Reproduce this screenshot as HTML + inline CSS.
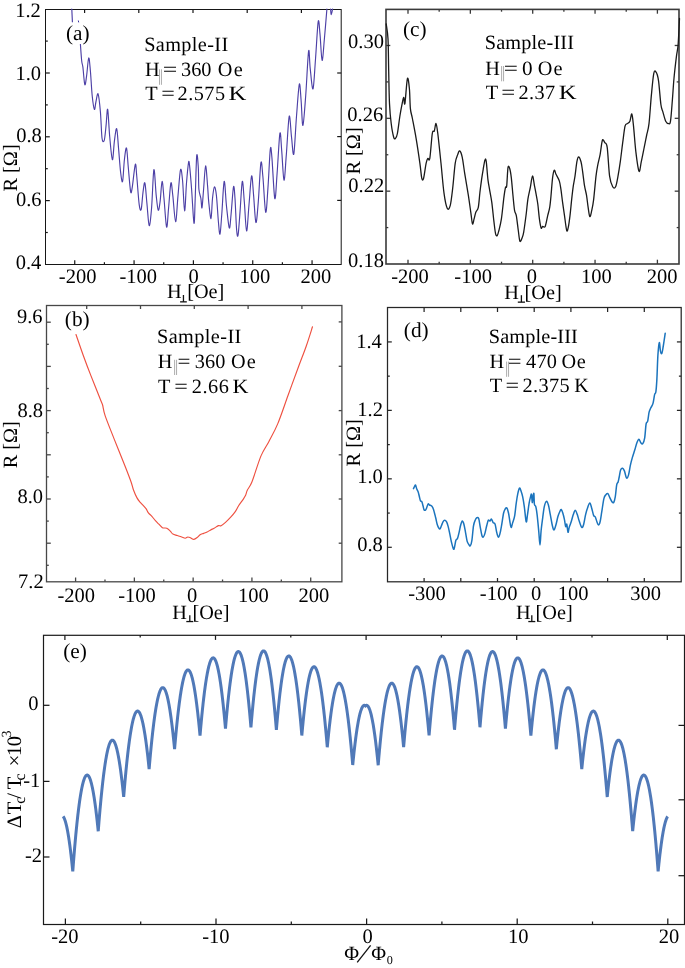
<!DOCTYPE html>
<html><head><meta charset="utf-8"><style>
html,body{margin:0;padding:0;background:#fff;}
svg{display:block;}
text{font-family:"Liberation Serif", serif; text-rendering:geometricPrecision;}
</style></head><body>
<svg width="685" height="968" viewBox="0 0 685 968">
<rect width="685" height="968" fill="#fff"/>
<line x1="74.74" y1="264.50" x2="74.74" y2="260.20" stroke="#161616" stroke-width="1.2"/>
<line x1="104.41" y1="264.50" x2="104.41" y2="262.20" stroke="#161616" stroke-width="1.2"/>
<line x1="134.07" y1="264.50" x2="134.07" y2="260.20" stroke="#161616" stroke-width="1.2"/>
<line x1="163.74" y1="264.50" x2="163.74" y2="262.20" stroke="#161616" stroke-width="1.2"/>
<line x1="193.40" y1="264.50" x2="193.40" y2="260.20" stroke="#161616" stroke-width="1.2"/>
<line x1="223.06" y1="264.50" x2="223.06" y2="262.20" stroke="#161616" stroke-width="1.2"/>
<line x1="252.73" y1="264.50" x2="252.73" y2="260.20" stroke="#161616" stroke-width="1.2"/>
<line x1="282.39" y1="264.50" x2="282.39" y2="262.20" stroke="#161616" stroke-width="1.2"/>
<line x1="312.06" y1="264.50" x2="312.06" y2="260.20" stroke="#161616" stroke-width="1.2"/>
<line x1="84.60" y1="9.50" x2="84.60" y2="13.00" stroke="#161616" stroke-width="1.2"/>
<line x1="138.80" y1="9.50" x2="138.80" y2="13.00" stroke="#161616" stroke-width="1.2"/>
<line x1="193.00" y1="9.50" x2="193.00" y2="13.00" stroke="#161616" stroke-width="1.2"/>
<line x1="247.20" y1="9.50" x2="247.20" y2="13.00" stroke="#161616" stroke-width="1.2"/>
<line x1="301.40" y1="9.50" x2="301.40" y2="13.00" stroke="#161616" stroke-width="1.2"/>
<line x1="45.50" y1="232.50" x2="47.80" y2="232.50" stroke="#161616" stroke-width="1.2"/>
<line x1="45.50" y1="200.60" x2="49.80" y2="200.60" stroke="#161616" stroke-width="1.2"/>
<line x1="45.50" y1="168.70" x2="47.80" y2="168.70" stroke="#161616" stroke-width="1.2"/>
<line x1="45.50" y1="136.80" x2="49.80" y2="136.80" stroke="#161616" stroke-width="1.2"/>
<line x1="45.50" y1="104.90" x2="47.80" y2="104.90" stroke="#161616" stroke-width="1.2"/>
<line x1="45.50" y1="73.00" x2="49.80" y2="73.00" stroke="#161616" stroke-width="1.2"/>
<line x1="45.50" y1="41.10" x2="47.80" y2="41.10" stroke="#161616" stroke-width="1.2"/>
<line x1="341.20" y1="73.00" x2="337.20" y2="73.00" stroke="#161616" stroke-width="1.2"/>
<line x1="341.20" y1="136.60" x2="337.20" y2="136.60" stroke="#161616" stroke-width="1.2"/>
<line x1="341.20" y1="200.40" x2="337.20" y2="200.40" stroke="#161616" stroke-width="1.2"/>
<rect x="45.5" y="9.5" width="295.70" height="255.00" fill="none" stroke="#161616" stroke-width="1.0"/>
<line x1="408.00" y1="264.00" x2="408.00" y2="259.70" stroke="#3a3a3a" stroke-width="1.3"/>
<line x1="439.18" y1="264.00" x2="439.18" y2="261.70" stroke="#3a3a3a" stroke-width="1.3"/>
<line x1="470.35" y1="264.00" x2="470.35" y2="259.70" stroke="#3a3a3a" stroke-width="1.3"/>
<line x1="501.53" y1="264.00" x2="501.53" y2="261.70" stroke="#3a3a3a" stroke-width="1.3"/>
<line x1="532.70" y1="264.00" x2="532.70" y2="259.70" stroke="#3a3a3a" stroke-width="1.3"/>
<line x1="563.88" y1="264.00" x2="563.88" y2="261.70" stroke="#3a3a3a" stroke-width="1.3"/>
<line x1="595.05" y1="264.00" x2="595.05" y2="259.70" stroke="#3a3a3a" stroke-width="1.3"/>
<line x1="626.23" y1="264.00" x2="626.23" y2="261.70" stroke="#3a3a3a" stroke-width="1.3"/>
<line x1="657.40" y1="264.00" x2="657.40" y2="259.70" stroke="#3a3a3a" stroke-width="1.3"/>
<line x1="408.00" y1="9.40" x2="408.00" y2="13.70" stroke="#3a3a3a" stroke-width="1.3"/>
<line x1="439.18" y1="9.40" x2="439.18" y2="11.70" stroke="#3a3a3a" stroke-width="1.3"/>
<line x1="470.35" y1="9.40" x2="470.35" y2="13.70" stroke="#3a3a3a" stroke-width="1.3"/>
<line x1="501.53" y1="9.40" x2="501.53" y2="11.70" stroke="#3a3a3a" stroke-width="1.3"/>
<line x1="532.70" y1="9.40" x2="532.70" y2="13.70" stroke="#3a3a3a" stroke-width="1.3"/>
<line x1="563.88" y1="9.40" x2="563.88" y2="11.70" stroke="#3a3a3a" stroke-width="1.3"/>
<line x1="595.05" y1="9.40" x2="595.05" y2="13.70" stroke="#3a3a3a" stroke-width="1.3"/>
<line x1="626.23" y1="9.40" x2="626.23" y2="11.70" stroke="#3a3a3a" stroke-width="1.3"/>
<line x1="657.40" y1="9.40" x2="657.40" y2="13.70" stroke="#3a3a3a" stroke-width="1.3"/>
<line x1="386.00" y1="227.58" x2="388.30" y2="227.58" stroke="#3a3a3a" stroke-width="1.3"/>
<line x1="386.00" y1="191.16" x2="390.30" y2="191.16" stroke="#3a3a3a" stroke-width="1.3"/>
<line x1="386.00" y1="154.74" x2="388.30" y2="154.74" stroke="#3a3a3a" stroke-width="1.3"/>
<line x1="386.00" y1="118.32" x2="390.30" y2="118.32" stroke="#3a3a3a" stroke-width="1.3"/>
<line x1="386.00" y1="81.90" x2="388.30" y2="81.90" stroke="#3a3a3a" stroke-width="1.3"/>
<line x1="386.00" y1="45.48" x2="390.30" y2="45.48" stroke="#3a3a3a" stroke-width="1.3"/>
<line x1="679.00" y1="227.58" x2="676.70" y2="227.58" stroke="#3a3a3a" stroke-width="1.3"/>
<line x1="679.00" y1="191.16" x2="674.70" y2="191.16" stroke="#3a3a3a" stroke-width="1.3"/>
<line x1="679.00" y1="154.74" x2="676.70" y2="154.74" stroke="#3a3a3a" stroke-width="1.3"/>
<line x1="679.00" y1="118.32" x2="674.70" y2="118.32" stroke="#3a3a3a" stroke-width="1.3"/>
<line x1="679.00" y1="81.90" x2="676.70" y2="81.90" stroke="#3a3a3a" stroke-width="1.3"/>
<line x1="679.00" y1="45.48" x2="674.70" y2="45.48" stroke="#3a3a3a" stroke-width="1.3"/>
<rect x="386" y="9.4" width="293.00" height="254.60" fill="none" stroke="#3a3a3a" stroke-width="1.6"/>
<line x1="75.59" y1="581.80" x2="75.59" y2="577.50" stroke="#474747" stroke-width="1.3"/>
<line x1="104.98" y1="581.80" x2="104.98" y2="579.50" stroke="#474747" stroke-width="1.3"/>
<line x1="134.37" y1="581.80" x2="134.37" y2="577.50" stroke="#474747" stroke-width="1.3"/>
<line x1="163.76" y1="581.80" x2="163.76" y2="579.50" stroke="#474747" stroke-width="1.3"/>
<line x1="193.15" y1="581.80" x2="193.15" y2="577.50" stroke="#474747" stroke-width="1.3"/>
<line x1="222.54" y1="581.80" x2="222.54" y2="579.50" stroke="#474747" stroke-width="1.3"/>
<line x1="251.93" y1="581.80" x2="251.93" y2="577.50" stroke="#474747" stroke-width="1.3"/>
<line x1="281.32" y1="581.80" x2="281.32" y2="579.50" stroke="#474747" stroke-width="1.3"/>
<line x1="310.71" y1="581.80" x2="310.71" y2="577.50" stroke="#474747" stroke-width="1.3"/>
<line x1="86.70" y1="305.50" x2="86.70" y2="309.00" stroke="#474747" stroke-width="1.3"/>
<line x1="140.50" y1="305.50" x2="140.50" y2="309.00" stroke="#474747" stroke-width="1.3"/>
<line x1="194.30" y1="305.50" x2="194.30" y2="309.00" stroke="#474747" stroke-width="1.3"/>
<line x1="248.10" y1="305.50" x2="248.10" y2="309.00" stroke="#474747" stroke-width="1.3"/>
<line x1="301.90" y1="305.50" x2="301.90" y2="309.00" stroke="#474747" stroke-width="1.3"/>
<line x1="46.50" y1="322.20" x2="50.80" y2="322.20" stroke="#474747" stroke-width="1.3"/>
<line x1="46.50" y1="344.30" x2="48.80" y2="344.30" stroke="#474747" stroke-width="1.3"/>
<line x1="46.50" y1="366.40" x2="50.80" y2="366.40" stroke="#474747" stroke-width="1.3"/>
<line x1="46.50" y1="388.50" x2="48.80" y2="388.50" stroke="#474747" stroke-width="1.3"/>
<line x1="46.50" y1="410.60" x2="50.80" y2="410.60" stroke="#474747" stroke-width="1.3"/>
<line x1="46.50" y1="432.70" x2="48.80" y2="432.70" stroke="#474747" stroke-width="1.3"/>
<line x1="46.50" y1="454.80" x2="50.80" y2="454.80" stroke="#474747" stroke-width="1.3"/>
<line x1="46.50" y1="476.90" x2="48.80" y2="476.90" stroke="#474747" stroke-width="1.3"/>
<line x1="46.50" y1="499.00" x2="50.80" y2="499.00" stroke="#474747" stroke-width="1.3"/>
<line x1="46.50" y1="521.10" x2="48.80" y2="521.10" stroke="#474747" stroke-width="1.3"/>
<line x1="46.50" y1="543.20" x2="50.80" y2="543.20" stroke="#474747" stroke-width="1.3"/>
<line x1="46.50" y1="565.30" x2="48.80" y2="565.30" stroke="#474747" stroke-width="1.3"/>
<line x1="341.90" y1="321.90" x2="338.70" y2="321.90" stroke="#474747" stroke-width="1.3"/>
<line x1="341.90" y1="366.30" x2="338.70" y2="366.30" stroke="#474747" stroke-width="1.3"/>
<line x1="341.90" y1="410.60" x2="338.70" y2="410.60" stroke="#474747" stroke-width="1.3"/>
<line x1="341.90" y1="454.80" x2="338.70" y2="454.80" stroke="#474747" stroke-width="1.3"/>
<line x1="341.90" y1="499.00" x2="338.70" y2="499.00" stroke="#474747" stroke-width="1.3"/>
<line x1="341.90" y1="543.20" x2="338.70" y2="543.20" stroke="#474747" stroke-width="1.3"/>
<rect x="46.5" y="305.5" width="295.40" height="276.30" fill="none" stroke="#474747" stroke-width="1.3"/>
<line x1="424.10" y1="581.80" x2="424.10" y2="578.00" stroke="#262626" stroke-width="1.25"/>
<line x1="460.80" y1="581.80" x2="460.80" y2="578.00" stroke="#262626" stroke-width="1.25"/>
<line x1="497.50" y1="581.80" x2="497.50" y2="578.00" stroke="#262626" stroke-width="1.25"/>
<line x1="534.20" y1="581.80" x2="534.20" y2="578.00" stroke="#262626" stroke-width="1.25"/>
<line x1="570.90" y1="581.80" x2="570.90" y2="578.00" stroke="#262626" stroke-width="1.25"/>
<line x1="607.60" y1="581.80" x2="607.60" y2="578.00" stroke="#262626" stroke-width="1.25"/>
<line x1="644.30" y1="581.80" x2="644.30" y2="578.00" stroke="#262626" stroke-width="1.25"/>
<line x1="424.10" y1="307.50" x2="424.10" y2="312.00" stroke="#262626" stroke-width="1.25"/>
<line x1="460.80" y1="307.50" x2="460.80" y2="312.00" stroke="#262626" stroke-width="1.25"/>
<line x1="497.50" y1="307.50" x2="497.50" y2="312.00" stroke="#262626" stroke-width="1.25"/>
<line x1="534.20" y1="307.50" x2="534.20" y2="312.00" stroke="#262626" stroke-width="1.25"/>
<line x1="570.90" y1="307.50" x2="570.90" y2="312.00" stroke="#262626" stroke-width="1.25"/>
<line x1="607.60" y1="307.50" x2="607.60" y2="312.00" stroke="#262626" stroke-width="1.25"/>
<line x1="644.30" y1="307.50" x2="644.30" y2="312.00" stroke="#262626" stroke-width="1.25"/>
<line x1="387.50" y1="547.30" x2="391.80" y2="547.30" stroke="#262626" stroke-width="1.25"/>
<line x1="387.50" y1="513.07" x2="389.80" y2="513.07" stroke="#262626" stroke-width="1.25"/>
<line x1="387.50" y1="478.84" x2="391.80" y2="478.84" stroke="#262626" stroke-width="1.25"/>
<line x1="387.50" y1="444.61" x2="389.80" y2="444.61" stroke="#262626" stroke-width="1.25"/>
<line x1="387.50" y1="410.38" x2="391.80" y2="410.38" stroke="#262626" stroke-width="1.25"/>
<line x1="387.50" y1="376.15" x2="389.80" y2="376.15" stroke="#262626" stroke-width="1.25"/>
<line x1="387.50" y1="341.92" x2="391.80" y2="341.92" stroke="#262626" stroke-width="1.25"/>
<line x1="681.20" y1="547.30" x2="676.90" y2="547.30" stroke="#262626" stroke-width="1.25"/>
<line x1="681.20" y1="513.07" x2="678.90" y2="513.07" stroke="#262626" stroke-width="1.25"/>
<line x1="681.20" y1="478.84" x2="676.90" y2="478.84" stroke="#262626" stroke-width="1.25"/>
<line x1="681.20" y1="444.61" x2="678.90" y2="444.61" stroke="#262626" stroke-width="1.25"/>
<line x1="681.20" y1="410.38" x2="676.90" y2="410.38" stroke="#262626" stroke-width="1.25"/>
<line x1="681.20" y1="376.15" x2="678.90" y2="376.15" stroke="#262626" stroke-width="1.25"/>
<line x1="681.20" y1="341.92" x2="676.90" y2="341.92" stroke="#262626" stroke-width="1.25"/>
<rect x="387.5" y="307.5" width="293.70" height="274.30" fill="none" stroke="#262626" stroke-width="1.25"/>
<line x1="65.40" y1="924.50" x2="65.40" y2="918.50" stroke="#1a1a1a" stroke-width="1.25"/>
<line x1="140.70" y1="924.50" x2="140.70" y2="921.50" stroke="#1a1a1a" stroke-width="1.25"/>
<line x1="216.00" y1="924.50" x2="216.00" y2="918.50" stroke="#1a1a1a" stroke-width="1.25"/>
<line x1="291.30" y1="924.50" x2="291.30" y2="921.50" stroke="#1a1a1a" stroke-width="1.25"/>
<line x1="366.60" y1="924.50" x2="366.60" y2="918.50" stroke="#1a1a1a" stroke-width="1.25"/>
<line x1="441.90" y1="924.50" x2="441.90" y2="921.50" stroke="#1a1a1a" stroke-width="1.25"/>
<line x1="517.20" y1="924.50" x2="517.20" y2="918.50" stroke="#1a1a1a" stroke-width="1.25"/>
<line x1="592.50" y1="924.50" x2="592.50" y2="921.50" stroke="#1a1a1a" stroke-width="1.25"/>
<line x1="667.80" y1="924.50" x2="667.80" y2="918.50" stroke="#1a1a1a" stroke-width="1.25"/>
<line x1="64.90" y1="635.30" x2="64.90" y2="639.90" stroke="#1a1a1a" stroke-width="1.25"/>
<line x1="140.20" y1="635.30" x2="140.20" y2="637.50" stroke="#1a1a1a" stroke-width="1.25"/>
<line x1="215.50" y1="635.30" x2="215.50" y2="639.90" stroke="#1a1a1a" stroke-width="1.25"/>
<line x1="290.80" y1="635.30" x2="290.80" y2="637.50" stroke="#1a1a1a" stroke-width="1.25"/>
<line x1="366.10" y1="635.30" x2="366.10" y2="639.90" stroke="#1a1a1a" stroke-width="1.25"/>
<line x1="441.40" y1="635.30" x2="441.40" y2="637.50" stroke="#1a1a1a" stroke-width="1.25"/>
<line x1="516.70" y1="635.30" x2="516.70" y2="639.90" stroke="#1a1a1a" stroke-width="1.25"/>
<line x1="592.00" y1="635.30" x2="592.00" y2="637.50" stroke="#1a1a1a" stroke-width="1.25"/>
<line x1="667.30" y1="635.30" x2="667.30" y2="639.90" stroke="#1a1a1a" stroke-width="1.25"/>
<line x1="43.50" y1="705.30" x2="49.50" y2="705.30" stroke="#1a1a1a" stroke-width="1.25"/>
<line x1="43.50" y1="781.40" x2="49.50" y2="781.40" stroke="#1a1a1a" stroke-width="1.25"/>
<line x1="43.50" y1="857.00" x2="49.50" y2="857.00" stroke="#1a1a1a" stroke-width="1.25"/>
<line x1="684.50" y1="725.40" x2="678.50" y2="725.40" stroke="#1a1a1a" stroke-width="1.25"/>
<line x1="684.50" y1="799.80" x2="678.50" y2="799.80" stroke="#1a1a1a" stroke-width="1.25"/>
<line x1="684.50" y1="875.70" x2="678.50" y2="875.70" stroke="#1a1a1a" stroke-width="1.25"/>
<rect x="43.5" y="635.3" width="641.00" height="289.20" fill="none" stroke="#1a1a1a" stroke-width="1.2"/>
<path d="M71.80,9.00 C71.90,11.17 72.30,19.83 72.40,22.00" fill="none" stroke="#4d40a6" stroke-width="1.15" stroke-linejoin="round" stroke-linecap="round" />
<path d="M80.40,44.30 C80.62,47.08 81.28,57.18 81.70,61.00 C82.12,64.82 82.38,63.27 82.90,67.20 C83.42,71.13 84.18,83.15 84.80,84.60 C85.42,86.05 85.95,80.33 86.60,75.90 C87.25,71.47 88.07,58.82 88.70,58.00 C89.33,57.18 89.82,64.72 90.40,71.00 C90.98,77.28 91.53,89.30 92.20,95.70 C92.87,102.10 93.78,108.35 94.40,109.40 C95.02,110.45 95.28,104.58 95.90,102.00 C96.52,99.42 97.35,92.28 98.10,93.90 C98.85,95.52 99.75,104.35 100.40,111.70 C101.05,119.05 101.40,133.10 102.00,138.00 C102.60,142.90 103.48,141.62 104.00,141.10 C104.52,140.58 104.73,137.73 105.10,134.90 C105.47,132.07 105.77,128.35 106.20,124.10 C106.63,119.85 107.12,107.33 107.70,109.40 C108.28,111.47 108.92,128.12 109.70,136.50 C110.48,144.88 111.62,158.93 112.40,159.70 C113.18,160.47 113.68,146.27 114.40,141.10 C115.12,135.93 116.00,127.40 116.70,128.70 C117.40,130.00 117.95,141.67 118.60,148.90 C119.25,156.13 119.93,166.68 120.60,172.10 C121.27,177.52 121.97,183.47 122.60,181.40 C123.23,179.33 123.75,165.25 124.40,159.70 C125.05,154.15 125.85,146.80 126.50,148.10 C127.15,149.40 127.62,160.27 128.30,167.50 C128.98,174.73 129.95,188.15 130.60,191.50 C131.25,194.85 131.42,192.12 132.20,187.60 C132.98,183.08 134.53,166.20 135.30,164.40 C136.07,162.60 136.15,170.08 136.80,176.80 C137.45,183.52 138.47,199.28 139.20,204.70 C139.93,210.12 140.57,211.37 141.20,209.30 C141.83,207.23 142.38,196.68 143.00,192.30 C143.62,187.92 144.25,181.20 144.90,183.00 C145.55,184.80 146.18,196.00 146.90,203.10 C147.62,210.20 148.42,224.82 149.20,225.60 C149.98,226.38 150.82,217.10 151.60,207.80 C152.38,198.50 153.13,171.87 153.90,169.80 C154.67,167.73 155.48,188.68 156.20,195.40 C156.92,202.12 157.55,209.07 158.20,210.10 C158.85,211.13 159.45,206.38 160.10,201.60 C160.75,196.82 161.45,181.92 162.10,181.40 C162.75,180.88 163.25,190.88 164.00,198.50 C164.75,206.12 165.83,225.55 166.60,227.10 C167.37,228.65 167.88,215.15 168.60,207.80 C169.32,200.45 170.20,185.07 170.90,183.00 C171.60,180.93 172.02,188.95 172.80,195.40 C173.58,201.85 174.75,221.45 175.60,221.70 C176.45,221.95 177.08,205.55 177.90,196.90 C178.72,188.25 179.72,172.45 180.50,169.80 C181.28,167.15 181.92,174.15 182.60,181.00 C183.28,187.85 183.95,210.57 184.60,210.90 C185.25,211.23 185.85,191.02 186.50,183.00 C187.15,174.98 187.98,165.65 188.50,162.80 C189.02,159.95 189.08,161.50 189.60,165.90 C190.12,170.30 190.87,179.63 191.60,189.20 C192.33,198.77 193.40,221.75 194.00,223.30 C194.60,224.85 194.75,209.73 195.20,198.50 C195.65,187.27 196.18,161.07 196.70,155.90 C197.22,150.73 197.93,161.95 198.30,167.50 C198.67,173.05 198.47,184.03 198.90,189.20 C199.33,194.37 200.38,195.40 200.90,198.50 C201.42,201.60 201.55,209.35 202.00,207.80 C202.45,206.25 203.00,196.18 203.60,189.20 C204.20,182.22 204.93,166.42 205.60,165.90 C206.27,165.38 207.08,180.15 207.60,186.10 C208.12,192.05 208.13,196.18 208.70,201.60 C209.27,207.02 210.37,219.12 211.00,218.60 C211.63,218.08 211.93,203.78 212.50,198.50 C213.07,193.22 213.75,187.42 214.40,186.90 C215.05,186.38 215.73,189.60 216.40,195.40 C217.07,201.20 217.80,215.25 218.40,221.70 C219.00,228.15 219.43,235.38 220.00,234.10 C220.57,232.82 221.10,222.78 221.80,214.00 C222.50,205.22 223.42,182.70 224.20,181.40 C224.98,180.10 225.65,198.45 226.50,206.20 C227.35,213.95 228.53,226.60 229.30,227.90 C230.07,229.20 230.40,220.83 231.10,214.00 C231.80,207.17 232.85,189.48 233.50,186.90 C234.15,184.32 234.48,191.40 235.00,198.50 C235.52,205.60 236.08,223.43 236.60,229.50 C237.12,235.57 237.52,238.00 238.10,234.90 C238.68,231.80 239.40,219.82 240.10,210.90 C240.80,201.98 241.60,182.95 242.30,181.40 C243.00,179.85 243.58,193.33 244.30,201.60 C245.02,209.87 245.82,230.48 246.60,231.00 C247.38,231.52 248.17,213.87 249.00,204.70 C249.83,195.53 250.83,177.55 251.60,176.00 C252.37,174.45 252.88,187.65 253.60,195.40 C254.32,203.15 255.12,221.47 255.90,222.50 C256.68,223.53 257.47,211.55 258.30,201.60 C259.13,191.65 260.13,166.93 260.90,162.80 C261.67,158.67 262.10,168.57 262.90,176.80 C263.70,185.03 264.85,210.48 265.70,212.20 C266.55,213.92 267.23,197.57 268.00,187.10 C268.77,176.63 269.65,154.35 270.30,149.40 C270.95,144.45 271.15,149.22 271.90,157.40 C272.65,165.58 273.93,195.83 274.80,198.50 C275.67,201.17 276.25,184.25 277.10,173.40 C277.95,162.55 279.13,137.20 279.90,133.40 C280.67,129.60 281.02,142.80 281.70,150.60 C282.38,158.40 283.23,179.45 284.00,180.20 C284.77,180.95 285.43,165.75 286.30,155.10 C287.17,144.45 288.33,119.33 289.20,116.30 C290.07,113.27 290.73,130.62 291.50,136.90 C292.27,143.18 292.97,157.43 293.80,154.00 C294.63,150.57 295.58,127.92 296.50,116.30 C297.42,104.68 298.53,86.97 299.30,84.30 C300.07,81.63 300.50,93.45 301.10,100.30 C301.70,107.15 302.13,126.15 302.90,125.40 C303.67,124.65 304.75,108.17 305.70,95.80 C306.65,83.43 307.85,55.77 308.60,51.20 C309.35,46.63 309.47,62.12 310.20,68.40 C310.93,74.68 312.12,90.43 313.00,88.90 C313.88,87.37 314.63,70.42 315.50,59.20 C316.37,47.98 317.45,25.78 318.20,21.60 C318.95,17.42 319.35,27.63 320.00,34.10 C320.65,40.57 321.37,59.63 322.10,60.40 C322.83,61.17 323.60,47.27 324.40,38.70 C325.20,30.13 326.48,13.95 326.90,9.00" fill="none" stroke="#4d40a6" stroke-width="1.15" stroke-linejoin="round" stroke-linecap="round" />
<path d="M330.60,9.00 C330.70,9.95 330.87,14.70 331.20,14.70 C331.53,14.70 332.37,9.95 332.60,9.00" fill="none" stroke="#4d40a6" stroke-width="1.15" stroke-linejoin="round" stroke-linecap="round" />
<path d="M386.20,23.90 C386.50,26.40 387.58,31.02 388.00,38.90 C388.42,46.78 388.45,60.42 388.70,71.20 C388.95,81.98 389.08,94.88 389.50,103.60 C389.92,112.32 390.50,117.90 391.20,123.50 C391.90,129.10 392.98,134.72 393.70,137.20 C394.42,139.68 394.88,139.02 395.50,138.40 C396.12,137.78 396.67,137.23 397.40,133.50 C398.13,129.77 399.15,120.78 399.90,116.00 C400.65,111.22 401.27,107.90 401.90,104.80 C402.53,101.70 403.20,97.60 403.70,97.40 C404.20,97.20 404.28,106.72 404.90,103.60 C405.52,100.48 406.65,81.18 407.40,78.70 C408.15,76.22 408.90,83.72 409.40,88.70 C409.90,93.68 409.90,103.63 410.40,108.60 C410.90,113.57 411.45,113.53 412.40,118.50 C413.35,123.47 414.85,130.93 416.10,138.40 C417.35,145.87 418.95,156.65 419.90,163.30 C420.85,169.95 421.18,175.80 421.80,178.30 C422.42,180.80 422.88,180.80 423.60,178.30 C424.32,175.80 425.40,166.62 426.10,163.30 C426.80,159.98 427.18,159.22 427.80,158.40 C428.42,157.58 429.05,162.55 429.80,158.40 C430.55,154.25 431.55,138.07 432.30,133.50 C433.05,128.93 433.68,132.67 434.30,131.00 C434.92,129.33 435.42,123.08 436.00,123.50 C436.58,123.92 436.97,126.87 437.80,133.50 C438.63,140.13 439.97,153.35 441.00,163.30 C442.03,173.25 442.97,185.72 444.00,193.20 C445.03,200.68 446.17,206.12 447.20,208.20 C448.23,210.28 449.28,209.03 450.20,205.70 C451.12,202.37 451.87,195.27 452.70,188.20 C453.53,181.13 454.37,168.90 455.20,163.30 C456.03,157.70 456.95,156.67 457.70,154.60 C458.45,152.53 458.95,150.48 459.70,150.90 C460.45,151.32 461.37,153.37 462.20,157.10 C463.03,160.83 463.67,166.87 464.70,173.30 C465.73,179.73 467.37,189.07 468.40,195.70 C469.43,202.33 470.22,208.40 470.90,213.10 C471.58,217.80 471.97,222.93 472.50,223.90 C473.03,224.87 473.55,220.83 474.10,218.90 C474.65,216.97 475.10,214.22 475.80,212.30 C476.50,210.38 477.62,210.70 478.30,207.40 C478.98,204.10 479.35,197.18 479.90,192.50 C480.45,187.82 481.05,183.17 481.60,179.30 C482.15,175.43 482.65,172.48 483.20,169.30 C483.75,166.12 484.40,161.57 484.90,160.20 C485.40,158.83 485.70,157.92 486.20,161.10 C486.70,164.28 487.30,174.35 487.90,179.30 C488.50,184.25 489.15,186.95 489.80,190.80 C490.45,194.65 491.10,197.17 491.80,202.40 C492.50,207.63 493.37,216.97 494.00,222.20 C494.63,227.43 495.05,231.58 495.60,233.80 C496.15,236.02 496.75,236.05 497.30,235.50 C497.85,234.95 498.22,233.27 498.90,230.50 C499.58,227.73 500.57,224.42 501.40,218.90 C502.23,213.38 503.22,202.63 503.90,197.40 C504.58,192.17 505.03,189.42 505.50,187.50 C505.97,185.58 506.28,189.20 506.70,185.90 C507.12,182.60 507.50,170.60 508.00,167.70 C508.50,164.80 509.15,166.85 509.70,168.50 C510.25,170.15 510.75,173.05 511.30,177.60 C511.85,182.15 512.45,190.28 513.00,195.80 C513.55,201.32 514.05,207.40 514.60,210.70 C515.15,214.00 515.68,212.30 516.30,215.60 C516.92,218.90 517.70,226.23 518.30,230.50 C518.90,234.77 519.27,239.97 519.90,241.20 C520.53,242.43 521.47,239.42 522.10,237.90 C522.73,236.38 523.02,236.08 523.70,232.10 C524.38,228.12 525.50,219.50 526.20,214.00 C526.90,208.50 527.22,203.52 527.90,199.10 C528.58,194.68 529.53,191.35 530.30,187.50 C531.07,183.65 531.80,176.27 532.50,176.00 C533.20,175.73 533.90,182.88 534.50,185.90 C535.10,188.92 535.55,191.08 536.10,194.10 C536.65,197.12 537.25,199.87 537.80,204.00 C538.35,208.13 538.85,214.90 539.40,218.90 C539.95,222.90 540.55,226.75 541.10,228.00 C541.65,229.25 542.02,226.67 542.70,226.40 C543.38,226.13 544.37,228.20 545.20,226.40 C546.03,224.60 546.95,218.77 547.70,215.60 C548.45,212.43 549.15,210.70 549.70,207.40 C550.25,204.10 550.52,200.77 551.00,195.80 C551.48,190.83 552.05,181.87 552.60,177.60 C553.15,173.33 553.73,170.75 554.30,170.20 C554.87,169.65 555.17,172.52 556.00,174.30 C556.83,176.08 558.48,178.42 559.30,180.90 C560.12,183.38 560.35,185.62 560.90,189.20 C561.45,192.78 562.00,198.00 562.60,202.40 C563.20,206.80 563.82,210.92 564.50,215.60 C565.18,220.28 566.07,228.57 566.70,230.50 C567.33,232.43 567.75,229.68 568.30,227.20 C568.85,224.72 569.43,220.28 570.00,215.60 C570.57,210.92 571.15,204.05 571.70,199.10 C572.25,194.15 572.75,189.73 573.30,185.90 C573.85,182.07 574.40,180.13 575.00,176.10 C575.60,172.07 576.30,164.88 576.90,161.70 C577.50,158.52 577.92,157.00 578.60,157.00 C579.28,157.00 580.33,159.32 581.00,161.70 C581.67,164.08 582.02,167.32 582.60,171.30 C583.18,175.28 583.85,181.62 584.50,185.60 C585.15,189.58 585.90,191.62 586.50,195.20 C587.10,198.78 587.55,203.53 588.10,207.10 C588.65,210.67 589.20,216.00 589.80,216.60 C590.40,217.20 591.07,213.48 591.70,210.70 C592.33,207.92 592.88,205.67 593.60,199.90 C594.32,194.13 595.32,181.87 596.00,176.10 C596.68,170.33 597.02,168.88 597.70,165.30 C598.38,161.72 599.32,158.77 600.10,154.60 C600.88,150.43 601.62,142.28 602.40,140.30 C603.18,138.32 604.00,141.52 604.80,142.70 C605.60,143.88 606.40,141.83 607.20,147.40 C608.00,152.97 608.68,169.53 609.60,176.10 C610.52,182.67 611.70,185.02 612.70,186.80 C613.70,188.58 614.72,188.58 615.60,186.80 C616.48,185.02 617.22,180.28 618.00,176.10 C618.78,171.92 619.52,167.27 620.30,161.70 C621.08,156.13 621.90,148.67 622.70,142.70 C623.50,136.73 624.30,129.08 625.10,125.90 C625.90,122.72 626.70,124.38 627.50,123.60 C628.30,122.82 629.18,122.80 629.90,121.20 C630.62,119.60 631.20,113.22 631.80,114.00 C632.40,114.78 632.82,119.53 633.50,125.90 C634.18,132.27 634.98,144.63 635.90,152.20 C636.82,159.77 638.10,169.72 639.00,171.30 C639.90,172.88 640.43,165.68 641.30,161.70 C642.17,157.72 643.32,151.77 644.20,147.40 C645.08,143.03 645.80,139.47 646.60,135.50 C647.40,131.53 648.20,130.37 649.00,123.60 C649.80,116.83 650.60,103.27 651.40,94.90 C652.20,86.53 653.02,77.18 653.80,73.40 C654.58,69.62 655.32,71.00 656.10,72.20 C656.88,73.40 657.70,75.22 658.50,80.60 C659.30,85.98 660.18,99.33 660.90,104.50 C661.62,109.67 662.00,108.82 662.80,111.60 C663.60,114.38 664.73,119.20 665.70,121.20 C666.67,123.20 667.80,123.60 668.60,123.60 C669.40,123.60 669.87,125.18 670.50,121.20 C671.13,117.22 671.82,106.87 672.40,99.70 C672.98,92.53 673.33,85.37 674.00,78.20 C674.67,71.03 675.72,62.27 676.40,56.70 C677.08,51.13 677.58,51.17 678.10,44.80 C678.62,38.43 679.27,22.88 679.50,18.50" fill="none" stroke="#1a1a1a" stroke-width="1.3" stroke-linejoin="round" stroke-linecap="round" />
<path d="M76.00,334.50 C77.20,337.95 80.70,348.30 83.20,355.20 C85.70,362.10 87.98,368.15 91.00,375.90 C94.02,383.65 99.37,396.85 101.30,401.70 C103.23,406.55 101.95,402.63 102.60,405.00 C103.25,407.37 103.27,410.22 105.20,415.90 C107.13,421.58 110.97,430.92 114.20,439.10 C117.43,447.28 121.80,457.90 124.60,465.00 C127.40,472.10 129.52,477.53 131.00,481.70 C132.48,485.87 132.50,487.30 133.50,490.00 C134.50,492.70 135.83,495.80 137.00,497.90 C138.17,500.00 139.03,500.85 140.50,502.60 C141.97,504.35 144.48,506.70 145.80,508.40 C147.12,510.10 147.38,511.48 148.40,512.80 C149.42,514.12 150.73,514.98 151.90,516.30 C153.07,517.62 154.23,519.38 155.40,520.70 C156.57,522.02 157.73,523.03 158.90,524.20 C160.07,525.37 161.08,527.03 162.40,527.70 C163.72,528.37 165.48,527.62 166.80,528.20 C168.12,528.78 169.28,530.22 170.30,531.20 C171.32,532.18 171.73,533.38 172.90,534.10 C174.07,534.82 175.83,535.02 177.30,535.50 C178.77,535.98 180.38,536.55 181.70,537.00 C183.02,537.45 184.18,538.20 185.20,538.20 C186.22,538.20 186.93,537.08 187.80,537.00 C188.67,536.92 189.38,537.30 190.40,537.70 C191.42,538.10 192.73,539.47 193.90,539.40 C195.07,539.33 196.37,538.08 197.40,537.30 C198.43,536.52 199.07,535.35 200.10,534.70 C201.13,534.05 202.43,533.85 203.60,533.40 C204.77,532.95 205.93,532.58 207.10,532.00 C208.27,531.42 209.43,530.53 210.60,529.90 C211.77,529.27 212.78,528.92 214.10,528.20 C215.42,527.48 217.33,526.02 218.50,525.60 C219.67,525.18 219.93,526.23 221.10,525.70 C222.27,525.17 223.90,523.82 225.50,522.40 C227.10,520.98 229.10,518.95 230.70,517.20 C232.30,515.45 233.78,513.80 235.10,511.90 C236.42,510.00 237.28,507.85 238.60,505.80 C239.92,503.75 241.83,501.35 243.00,499.60 C244.17,497.85 244.87,496.90 245.60,495.30 C246.33,493.70 246.33,492.27 247.40,490.00 C248.47,487.73 249.73,487.38 252.00,481.70 C254.27,476.02 258.20,462.57 261.00,455.90 C263.80,449.23 266.00,447.08 268.80,441.70 C271.60,436.32 274.58,431.35 277.80,423.60 C281.02,415.85 284.65,404.67 288.10,395.20 C291.55,385.73 295.48,374.97 298.50,366.80 C301.52,358.63 303.87,352.87 306.20,346.20 C308.53,339.53 311.45,330.03 312.50,326.80" fill="none" stroke="#ee5040" stroke-width="1.15" stroke-linejoin="round" stroke-linecap="round" />
<path d="M413.50,488.60 C413.68,488.23 414.27,487.00 414.60,486.40 C414.93,485.80 415.13,484.57 415.50,485.00 C415.87,485.43 416.35,487.85 416.80,489.00 C417.25,490.15 417.78,490.68 418.20,491.90 C418.62,493.12 418.93,494.83 419.30,496.30 C419.67,497.77 419.97,499.78 420.40,500.70 C420.83,501.62 421.47,500.95 421.90,501.80 C422.33,502.65 422.63,504.47 423.00,505.80 C423.37,507.13 423.68,509.08 424.10,509.80 C424.52,510.52 425.08,510.40 425.50,510.10 C425.92,509.80 426.17,509.03 426.60,508.00 C427.03,506.97 427.62,504.40 428.10,503.90 C428.58,503.40 428.90,504.63 429.50,505.00 C430.10,505.37 431.03,505.37 431.70,506.10 C432.37,506.83 432.83,507.45 433.50,509.40 C434.17,511.35 435.05,515.20 435.70,517.80 C436.35,520.40 436.72,523.12 437.40,525.00 C438.08,526.88 439.13,528.97 439.80,529.10 C440.47,529.23 440.87,527.02 441.40,525.80 C441.93,524.58 442.47,522.73 443.00,521.80 C443.53,520.87 444.00,520.20 444.60,520.20 C445.20,520.20 446.00,520.73 446.60,521.80 C447.20,522.87 447.67,524.58 448.20,526.60 C448.73,528.62 449.27,531.35 449.80,533.90 C450.33,536.45 450.78,539.37 451.40,541.90 C452.02,544.43 452.97,548.30 453.50,549.10 C454.03,549.90 454.20,548.17 454.60,546.70 C455.00,545.23 455.42,541.68 455.90,540.30 C456.38,538.92 456.97,539.73 457.50,538.40 C458.03,537.07 458.57,534.53 459.10,532.30 C459.63,530.07 460.17,526.88 460.70,525.00 C461.23,523.12 461.77,521.13 462.30,521.00 C462.83,520.87 463.37,522.32 463.90,524.20 C464.43,526.08 464.97,529.48 465.50,532.30 C466.03,535.12 466.57,539.10 467.10,541.10 C467.63,543.10 468.17,543.50 468.70,544.30 C469.23,545.10 469.77,546.57 470.30,545.90 C470.83,545.23 471.37,543.65 471.90,540.30 C472.43,536.95 472.95,529.15 473.50,525.80 C474.05,522.45 474.65,521.53 475.20,520.20 C475.75,518.87 476.22,518.07 476.80,517.80 C477.38,517.53 478.12,517.00 478.70,518.60 C479.28,520.20 479.77,524.58 480.30,527.40 C480.83,530.22 481.42,533.88 481.90,535.50 C482.38,537.12 482.72,537.37 483.20,537.10 C483.68,536.83 484.22,535.78 484.80,533.90 C485.38,532.02 486.12,528.08 486.70,525.80 C487.28,523.52 487.77,521.00 488.30,520.20 C488.83,519.40 489.37,521.18 489.90,521.00 C490.43,520.82 490.97,518.83 491.50,519.10 C492.03,519.37 492.50,521.75 493.10,522.60 C493.70,523.45 494.50,522.58 495.10,524.20 C495.70,525.82 496.17,530.15 496.70,532.30 C497.23,534.45 497.77,536.83 498.30,537.10 C498.83,537.37 499.37,535.78 499.90,533.90 C500.43,532.02 500.88,529.28 501.50,525.80 C502.12,522.32 502.98,515.80 503.60,513.00 C504.22,510.20 504.65,509.85 505.20,509.00 C505.75,508.15 506.35,507.23 506.90,507.90 C507.45,508.57 508.02,510.82 508.50,513.00 C508.98,515.18 509.37,518.60 509.80,521.00 C510.23,523.40 510.62,527.13 511.10,527.40 C511.58,527.67 512.12,524.47 512.70,522.60 C513.28,520.73 514.02,519.40 514.60,516.20 C515.18,513.00 515.67,507.15 516.20,503.40 C516.73,499.65 517.25,496.25 517.80,493.70 C518.35,491.15 518.95,488.50 519.50,488.10 C520.05,487.70 520.57,489.83 521.10,491.30 C521.63,492.77 522.17,494.35 522.70,496.90 C523.23,499.45 523.72,502.45 524.30,506.60 C524.88,510.75 525.67,520.47 526.20,521.80 C526.73,523.13 527.02,517.67 527.50,514.60 C527.98,511.53 528.57,506.48 529.10,503.40 C529.63,500.32 530.30,497.58 530.70,496.10 C531.10,494.62 531.23,493.42 531.50,494.50 C531.77,495.58 532.03,502.33 532.30,502.60 C532.57,502.87 532.83,497.58 533.10,496.10 C533.37,494.62 533.68,492.35 533.90,493.70 C534.12,495.05 534.08,502.05 534.40,504.20 C534.72,506.35 535.35,504.87 535.80,506.60 C536.25,508.33 536.62,510.58 537.10,514.60 C537.58,518.62 538.22,525.62 538.70,530.70 C539.18,535.78 539.60,545.10 540.00,545.10 C540.40,545.10 540.65,535.25 541.10,530.70 C541.55,526.15 542.17,521.82 542.70,517.80 C543.23,513.78 543.68,509.33 544.30,506.60 C544.92,503.87 545.72,501.67 546.40,501.40 C547.08,501.13 547.75,502.80 548.40,505.00 C549.05,507.20 549.63,511.13 550.30,514.60 C550.97,518.07 551.77,523.25 552.40,525.80 C553.03,528.35 553.48,530.17 554.10,529.90 C554.72,529.63 555.45,526.48 556.10,524.20 C556.75,521.92 557.37,518.33 558.00,516.20 C558.63,514.07 559.37,512.52 559.90,511.40 C560.43,510.28 560.72,509.23 561.20,509.50 C561.68,509.77 562.27,511.35 562.80,513.00 C563.33,514.65 563.92,517.13 564.40,519.40 C564.88,521.67 565.30,525.80 565.70,526.60 C566.10,527.40 566.42,523.25 566.80,524.20 C567.18,525.15 567.60,531.77 568.00,532.30 C568.40,532.83 568.67,529.15 569.20,527.40 C569.73,525.65 570.52,523.93 571.20,521.80 C571.88,519.67 572.62,516.52 573.30,514.60 C573.98,512.68 574.63,510.30 575.30,510.30 C575.97,510.30 576.65,512.82 577.30,514.60 C577.95,516.38 578.45,518.87 579.20,521.00 C579.95,523.13 581.05,526.87 581.80,527.40 C582.55,527.93 583.07,526.33 583.70,524.20 C584.33,522.07 584.93,517.40 585.60,514.60 C586.27,511.80 587.00,509.33 587.70,507.40 C588.40,505.47 589.13,502.87 589.80,503.00 C590.47,503.13 591.07,506.13 591.70,508.20 C592.33,510.27 593.00,513.93 593.60,515.40 C594.20,516.87 594.75,515.93 595.30,517.00 C595.85,518.07 596.37,520.47 596.90,521.80 C597.43,523.13 597.97,525.00 598.50,525.00 C599.03,525.00 599.57,523.93 600.10,521.80 C600.63,519.67 601.07,516.07 601.70,512.20 C602.33,508.33 603.20,501.52 603.90,498.60 C604.60,495.68 605.23,495.52 605.90,494.70 C606.57,493.88 607.25,493.22 607.90,493.70 C608.55,494.18 609.15,496.30 609.80,497.60 C610.45,498.90 611.15,500.68 611.80,501.50 C612.45,502.32 613.12,503.32 613.70,502.50 C614.28,501.68 614.80,499.53 615.30,496.60 C615.80,493.67 616.23,487.35 616.70,484.90 C617.17,482.45 617.68,483.22 618.10,481.90 C618.52,480.58 618.78,478.97 619.20,477.00 C619.62,475.03 620.03,471.57 620.60,470.10 C621.17,468.63 621.95,468.03 622.60,468.20 C623.25,468.37 623.85,469.47 624.50,471.10 C625.15,472.73 625.83,477.33 626.50,478.00 C627.17,478.67 627.85,477.23 628.50,475.10 C629.15,472.97 629.75,468.15 630.40,465.20 C631.05,462.25 631.65,460.02 632.40,457.40 C633.15,454.78 634.15,451.95 634.90,449.50 C635.65,447.05 636.23,444.40 636.90,442.70 C637.57,441.00 638.25,439.30 638.90,439.30 C639.55,439.30 640.15,441.98 640.80,442.70 C641.45,443.42 642.15,444.42 642.80,443.60 C643.45,442.78 644.15,441.07 644.70,437.80 C645.25,434.53 645.60,426.78 646.10,424.00 C646.60,421.22 647.20,423.07 647.70,421.10 C648.20,419.13 648.62,414.33 649.10,412.20 C649.58,410.07 649.95,409.77 650.60,408.30 C651.25,406.83 652.33,405.68 653.00,403.40 C653.67,401.12 654.12,396.57 654.60,394.60 C655.08,392.63 655.52,394.22 655.90,391.60 C656.28,388.98 656.57,384.95 656.90,378.90 C657.23,372.85 657.50,361.35 657.90,355.30 C658.30,349.25 658.87,343.25 659.30,342.60 C659.73,341.95 660.08,349.60 660.50,351.40 C660.92,353.20 661.35,354.22 661.80,353.40 C662.25,352.58 662.63,349.85 663.20,346.50 C663.77,343.15 664.87,335.50 665.20,333.30" fill="none" stroke="#1b74bd" stroke-width="1.5" stroke-linejoin="round" stroke-linecap="round" />
<path d="M63.10,816.37 L63.35,816.69 L63.61,817.08 L63.86,817.53 L64.12,818.04 L64.37,818.60 L64.63,819.23 L64.88,819.92 L65.14,820.67 L65.39,821.48 L65.64,822.36 L65.90,823.29 L66.15,824.28 L66.41,825.33 L66.66,826.45 L66.92,827.62 L67.17,828.85 L67.43,830.15 L67.68,831.50 L67.94,832.92 L68.19,834.39 L68.44,835.93 L68.70,837.52 L68.95,839.18 L69.21,840.90 L69.46,842.68 L69.72,844.51 L69.97,846.41 L70.23,848.37 L70.48,850.39 L70.73,852.48 L70.99,854.62 L71.24,856.82 L71.50,859.09 L71.75,861.41 L72.01,863.80 L72.26,866.25 L72.52,868.76 L72.77,871.33 L72.77,871.38 L73.03,868.04 L73.28,864.70 L73.53,861.43 L73.79,858.21 L74.04,855.06 L74.30,851.96 L74.55,848.93 L74.81,845.96 L75.06,843.04 L75.32,840.19 L75.57,837.40 L75.82,834.67 L76.08,832.00 L76.33,829.40 L76.59,826.85 L76.84,824.36 L77.10,821.94 L77.35,819.58 L77.61,817.28 L77.86,815.04 L78.12,812.86 L78.37,810.74 L78.62,808.69 L78.88,806.69 L79.13,804.76 L79.39,802.89 L79.64,801.08 L79.90,799.33 L80.15,797.64 L80.41,796.01 L80.66,794.45 L80.91,792.94 L81.17,791.50 L81.42,790.12 L81.68,788.80 L81.93,787.54 L82.19,786.34 L82.44,785.20 L82.70,784.13 L82.95,783.11 L83.21,782.16 L83.46,781.26 L83.71,780.43 L83.97,779.66 L84.22,778.94 L84.48,778.29 L84.73,777.70 L84.99,777.17 L85.24,776.70 L85.50,776.28 L85.75,775.93 L86.00,775.64 L86.26,775.41 L86.51,775.24 L86.77,775.13 L87.02,775.07 L87.28,775.08 L87.53,775.15 L87.79,775.27 L88.04,775.46 L88.30,775.70 L88.55,776.01 L88.80,776.37 L89.06,776.79 L89.31,777.27 L89.57,777.81 L89.82,778.41 L90.08,779.07 L90.33,779.79 L90.59,780.56 L90.84,781.40 L91.09,782.29 L91.35,783.24 L91.60,784.25 L91.86,785.32 L92.11,786.45 L92.37,787.64 L92.62,788.88 L92.88,790.18 L93.13,791.55 L93.39,792.97 L93.64,794.45 L93.89,795.99 L94.15,797.58 L94.40,799.24 L94.66,800.95 L94.91,802.73 L95.17,804.56 L95.42,806.45 L95.68,808.40 L95.93,810.41 L96.18,812.48 L96.44,814.61 L96.69,816.80 L96.95,819.04 L97.20,821.35 L97.46,823.72 L97.71,826.14 L97.97,828.63 L98.22,831.18 L98.23,831.22 L98.48,828.02 L98.73,824.82 L98.98,821.69 L99.24,818.61 L99.49,815.59 L99.75,812.62 L100.00,809.72 L100.26,806.88 L100.51,804.09 L100.77,801.37 L101.02,798.70 L101.27,796.09 L101.53,793.55 L101.78,791.06 L102.04,788.63 L102.29,786.26 L102.55,783.95 L102.80,781.70 L103.06,779.51 L103.31,777.38 L103.57,775.31 L103.82,773.29 L104.07,771.34 L104.33,769.45 L104.58,767.62 L104.84,765.85 L105.09,764.13 L105.35,762.48 L105.60,760.88 L105.86,759.35 L106.11,757.88 L106.36,756.46 L106.62,755.10 L106.87,753.81 L107.13,752.57 L107.38,751.39 L107.64,750.27 L107.89,749.22 L108.15,748.22 L108.40,747.28 L108.66,746.39 L108.91,745.57 L109.16,744.81 L109.42,744.10 L109.67,743.46 L109.93,742.87 L110.18,742.34 L110.44,741.87 L110.69,741.46 L110.95,741.11 L111.20,740.81 L111.45,740.57 L111.71,740.40 L111.96,740.28 L112.22,740.21 L112.47,740.21 L112.73,740.26 L112.98,740.38 L113.24,740.55 L113.49,740.77 L113.75,741.06 L114.00,741.40 L114.25,741.80 L114.51,742.26 L114.76,742.77 L115.02,743.35 L115.27,743.98 L115.53,744.66 L115.78,745.41 L116.04,746.21 L116.29,747.07 L116.54,747.99 L116.80,748.96 L117.05,749.99 L117.31,751.08 L117.56,752.22 L117.82,753.42 L118.07,754.68 L118.33,756.00 L118.58,757.37 L118.84,758.80 L119.09,760.29 L119.34,761.83 L119.60,763.43 L119.85,765.09 L120.11,766.81 L120.36,768.58 L120.62,770.41 L120.87,772.30 L121.13,774.24 L121.38,776.25 L121.63,778.31 L121.89,780.43 L122.14,782.60 L122.40,784.84 L122.65,787.13 L122.91,789.48 L123.16,791.89 L123.42,794.35 L123.67,796.88 L123.67,796.92 L123.93,793.85 L124.18,790.79 L124.43,787.79 L124.69,784.84 L124.94,781.96 L125.20,779.12 L125.45,776.35 L125.71,773.63 L125.96,770.98 L126.22,768.37 L126.47,765.83 L126.72,763.34 L126.98,760.92 L127.23,758.54 L127.49,756.23 L127.74,753.98 L128.00,751.78 L128.25,749.64 L128.51,747.56 L128.76,745.53 L129.02,743.57 L129.27,741.66 L129.52,739.81 L129.78,738.02 L130.03,736.28 L130.29,734.61 L130.54,732.99 L130.80,731.43 L131.05,729.92 L131.31,728.48 L131.56,727.09 L131.81,725.76 L132.07,724.49 L132.32,723.28 L132.58,722.12 L132.83,721.02 L133.09,719.98 L133.34,719.00 L133.60,718.07 L133.85,717.21 L134.11,716.40 L134.36,715.64 L134.61,714.95 L134.87,714.31 L135.12,713.73 L135.38,713.20 L135.63,712.74 L135.89,712.33 L136.14,711.98 L136.40,711.68 L136.65,711.44 L136.90,711.26 L137.16,711.14 L137.41,711.07 L137.67,711.06 L137.92,711.11 L138.18,711.21 L138.43,711.37 L138.69,711.59 L138.94,711.86 L139.20,712.19 L139.45,712.58 L139.70,713.02 L139.96,713.52 L140.21,714.08 L140.47,714.69 L140.72,715.36 L140.98,716.09 L141.23,716.87 L141.49,717.71 L141.74,718.60 L141.99,719.55 L142.25,720.56 L142.50,721.62 L142.76,722.74 L143.01,723.92 L143.27,725.15 L143.52,726.44 L143.78,727.78 L144.03,729.18 L144.29,730.64 L144.54,732.15 L144.79,733.72 L145.05,735.35 L145.30,737.03 L145.56,738.76 L145.81,740.56 L146.07,742.41 L146.32,744.32 L146.58,746.28 L146.83,748.30 L147.08,750.38 L147.34,752.51 L147.59,754.70 L147.85,756.95 L148.10,759.25 L148.36,761.61 L148.61,764.03 L148.87,766.50 L149.12,769.03 L149.12,769.08 L149.38,766.12 L149.63,763.17 L149.88,760.27 L150.14,757.44 L150.39,754.66 L150.65,751.93 L150.90,749.27 L151.16,746.66 L151.41,744.11 L151.67,741.61 L151.92,739.17 L152.17,736.79 L152.43,734.46 L152.68,732.19 L152.94,729.97 L153.19,727.82 L153.45,725.72 L153.70,723.67 L153.96,721.68 L154.21,719.75 L154.47,717.87 L154.72,716.05 L154.97,714.29 L155.23,712.58 L155.48,710.93 L155.74,709.34 L155.99,707.80 L156.25,706.32 L156.50,704.89 L156.76,703.53 L157.01,702.21 L157.26,700.96 L157.52,699.76 L157.77,698.61 L158.03,697.53 L158.28,696.50 L158.54,695.52 L158.79,694.61 L159.05,693.75 L159.30,692.94 L159.56,692.19 L159.81,691.50 L160.06,690.87 L160.32,690.29 L160.57,689.77 L160.83,689.31 L161.08,688.90 L161.34,688.55 L161.59,688.25 L161.85,688.02 L162.10,687.83 L162.35,687.71 L162.61,687.64 L162.86,687.64 L163.12,687.68 L163.37,687.79 L163.63,687.95 L163.88,688.17 L164.14,688.44 L164.39,688.77 L164.65,689.16 L164.90,689.61 L165.15,690.12 L165.41,690.68 L165.66,691.30 L165.92,691.97 L166.17,692.70 L166.43,693.49 L166.68,694.34 L166.94,695.25 L167.19,696.21 L167.44,697.23 L167.70,698.31 L167.95,699.44 L168.21,700.63 L168.46,701.88 L168.72,703.19 L168.97,704.55 L169.23,705.97 L169.48,707.45 L169.74,708.99 L169.99,710.58 L170.24,712.23 L170.50,713.94 L170.75,715.70 L171.01,717.53 L171.26,719.41 L171.52,721.34 L171.77,723.34 L172.03,725.39 L172.28,727.50 L172.53,729.66 L172.79,731.89 L173.04,734.17 L173.30,736.51 L173.55,738.90 L173.81,741.35 L174.06,743.86 L174.32,746.42 L174.57,749.05 L174.57,749.09 L174.83,746.15 L175.08,743.23 L175.33,740.37 L175.59,737.56 L175.84,734.81 L176.10,732.12 L176.35,729.48 L176.61,726.90 L176.86,724.38 L177.12,721.92 L177.37,719.52 L177.62,717.17 L177.88,714.87 L178.13,712.64 L178.39,710.46 L178.64,708.34 L178.90,706.28 L179.15,704.27 L179.41,702.32 L179.66,700.43 L179.92,698.59 L180.17,696.81 L180.42,695.09 L180.68,693.42 L180.93,691.81 L181.19,690.26 L181.44,688.76 L181.70,687.32 L181.95,685.94 L182.21,684.62 L182.46,683.35 L182.71,682.14 L182.97,680.98 L183.22,679.88 L183.48,678.84 L183.73,677.86 L183.99,676.93 L184.24,676.06 L184.50,675.25 L184.75,674.50 L185.01,673.80 L185.26,673.16 L185.51,672.58 L185.77,672.05 L186.02,671.58 L186.28,671.17 L186.53,670.82 L186.79,670.52 L187.04,670.28 L187.30,670.10 L187.55,669.98 L187.80,669.92 L188.06,669.91 L188.31,669.96 L188.57,670.07 L188.82,670.24 L189.08,670.46 L189.33,670.75 L189.59,671.09 L189.84,671.49 L190.10,671.95 L190.35,672.46 L190.60,673.04 L190.86,673.67 L191.11,674.36 L191.37,675.12 L191.62,675.92 L191.88,676.79 L192.13,677.72 L192.39,678.70 L192.64,679.75 L192.89,680.85 L193.15,682.01 L193.40,683.23 L193.66,684.51 L193.91,685.84 L194.17,687.24 L194.42,688.69 L194.68,690.21 L194.93,691.78 L195.19,693.41 L195.44,695.10 L195.69,696.85 L195.95,698.66 L196.20,700.52 L196.46,702.45 L196.71,704.43 L196.97,706.47 L197.22,708.57 L197.48,710.73 L197.73,712.94 L197.98,715.22 L198.24,717.55 L198.49,719.94 L198.75,722.39 L199.00,724.90 L199.26,727.47 L199.51,730.09 L199.77,732.77 L200.02,735.51 L200.03,735.56 L200.28,732.62 L200.53,729.70 L200.78,726.83 L201.04,724.03 L201.29,721.28 L201.55,718.60 L201.80,715.97 L202.06,713.40 L202.31,710.89 L202.57,708.44 L202.82,706.05 L203.07,703.71 L203.33,701.43 L203.58,699.21 L203.84,697.05 L204.09,694.95 L204.35,692.90 L204.60,690.92 L204.86,688.99 L205.11,687.12 L205.37,685.30 L205.62,683.55 L205.87,681.85 L206.13,680.21 L206.38,678.62 L206.64,677.10 L206.89,675.63 L207.15,674.22 L207.40,672.87 L207.66,671.58 L207.91,670.34 L208.16,669.16 L208.42,668.05 L208.67,666.98 L208.93,665.98 L209.18,665.04 L209.44,664.15 L209.69,663.32 L209.95,662.55 L210.20,661.84 L210.46,661.18 L210.71,660.59 L210.96,660.05 L211.22,659.58 L211.47,659.16 L211.73,658.80 L211.98,658.50 L212.24,658.26 L212.49,658.07 L212.75,657.95 L213.00,657.89 L213.25,657.88 L213.51,657.94 L213.76,658.05 L214.02,658.22 L214.27,658.46 L214.53,658.75 L214.78,659.10 L215.04,659.52 L215.29,659.99 L215.55,660.52 L215.80,661.12 L216.05,661.77 L216.31,662.49 L216.56,663.26 L216.82,664.09 L217.07,664.99 L217.33,665.95 L217.58,666.96 L217.84,668.04 L218.09,669.18 L218.34,670.37 L218.60,671.63 L218.85,672.95 L219.11,674.33 L219.36,675.78 L219.62,677.28 L219.87,678.84 L220.13,680.46 L220.38,682.15 L220.64,683.89 L220.89,685.70 L221.14,687.57 L221.40,689.49 L221.65,691.48 L221.91,693.53 L222.16,695.64 L222.42,697.81 L222.67,700.04 L222.93,702.33 L223.18,704.68 L223.43,707.09 L223.69,709.56 L223.94,712.10 L224.20,714.69 L224.45,717.34 L224.71,720.05 L224.96,722.82 L225.22,725.65 L225.47,728.53 L225.47,728.58 L225.73,725.61 L225.98,722.66 L226.23,719.76 L226.49,716.93 L226.74,714.16 L227.00,711.45 L227.25,708.80 L227.51,706.21 L227.76,703.68 L228.02,701.21 L228.27,698.80 L228.52,696.45 L228.78,694.16 L229.03,691.93 L229.29,689.76 L229.54,687.65 L229.80,685.60 L230.05,683.62 L230.31,681.69 L230.56,679.81 L230.82,678.00 L231.07,676.25 L231.32,674.56 L231.58,672.93 L231.83,671.36 L232.09,669.85 L232.34,668.39 L232.60,667.00 L232.85,665.67 L233.11,664.39 L233.36,663.18 L233.61,662.03 L233.87,660.93 L234.12,659.90 L234.38,658.92 L234.63,658.01 L234.89,657.16 L235.14,656.36 L235.40,655.63 L235.65,654.95 L235.91,654.34 L236.16,653.79 L236.41,653.30 L236.67,652.86 L236.92,652.49 L237.18,652.18 L237.43,651.93 L237.69,651.75 L237.94,651.62 L238.20,651.55 L238.45,651.54 L238.70,651.60 L238.96,651.72 L239.21,651.90 L239.47,652.14 L239.72,652.44 L239.98,652.80 L240.23,653.22 L240.49,653.71 L240.74,654.26 L241.00,654.87 L241.25,655.54 L241.50,656.27 L241.76,657.07 L242.01,657.92 L242.27,658.84 L242.52,659.83 L242.78,660.87 L243.03,661.98 L243.29,663.15 L243.54,664.38 L243.79,665.67 L244.05,667.03 L244.30,668.45 L244.56,669.93 L244.81,671.47 L245.07,673.08 L245.32,674.75 L245.58,676.48 L245.83,678.27 L246.09,680.13 L246.34,682.05 L246.59,684.03 L246.85,686.07 L247.10,688.18 L247.36,690.35 L247.61,692.58 L247.87,694.87 L248.12,697.23 L248.38,699.64 L248.63,702.12 L248.88,704.66 L249.14,707.27 L249.39,709.93 L249.65,712.66 L249.90,715.45 L250.16,718.30 L250.41,721.21 L250.67,724.18 L250.92,727.21 L250.93,727.26 L251.18,724.26 L251.43,721.28 L251.68,718.36 L251.94,715.50 L252.19,712.70 L252.45,709.96 L252.70,707.29 L252.96,704.68 L253.21,702.13 L253.47,699.64 L253.72,697.21 L253.97,694.85 L254.23,692.55 L254.48,690.31 L254.74,688.13 L254.99,686.01 L255.25,683.96 L255.50,681.97 L255.76,680.04 L256.01,678.17 L256.27,676.36 L256.52,674.62 L256.77,672.93 L257.03,671.31 L257.28,669.75 L257.54,668.26 L257.79,666.82 L258.05,665.45 L258.30,664.14 L258.56,662.89 L258.81,661.70 L259.06,660.57 L259.32,659.51 L259.57,658.51 L259.83,657.57 L260.08,656.69 L260.34,655.87 L260.59,655.12 L260.85,654.43 L261.10,653.80 L261.36,653.23 L261.61,652.72 L261.86,652.28 L262.12,651.90 L262.37,651.58 L262.63,651.32 L262.88,651.12 L263.14,650.99 L263.39,650.92 L263.65,650.91 L263.90,650.96 L264.15,651.07 L264.41,651.25 L264.66,651.49 L264.92,651.79 L265.17,652.15 L265.43,652.58 L265.68,653.07 L265.94,653.62 L266.19,654.23 L266.45,654.90 L266.70,655.64 L266.95,656.44 L267.21,657.30 L267.46,658.22 L267.72,659.20 L267.97,660.25 L268.23,661.36 L268.48,662.53 L268.74,663.77 L268.99,665.06 L269.24,666.42 L269.50,667.84 L269.75,669.33 L270.01,670.87 L270.26,672.48 L270.52,674.15 L270.77,675.88 L271.03,677.68 L271.28,679.53 L271.54,681.45 L271.79,683.44 L272.04,685.48 L272.30,687.59 L272.55,689.75 L272.81,691.98 L273.06,694.28 L273.32,696.63 L273.57,699.05 L273.83,701.53 L274.08,704.07 L274.33,706.68 L274.59,709.34 L274.84,712.07 L275.10,714.86 L275.35,717.71 L275.61,720.63 L275.86,723.61 L276.12,726.64 L276.37,729.75 L276.38,729.80 L276.63,726.84 L276.88,723.90 L277.13,721.02 L277.39,718.21 L277.64,715.45 L277.90,712.75 L278.15,710.12 L278.41,707.55 L278.66,705.04 L278.92,702.60 L279.17,700.21 L279.42,697.89 L279.68,695.63 L279.93,693.43 L280.19,691.30 L280.44,689.23 L280.70,687.22 L280.95,685.27 L281.21,683.39 L281.46,681.56 L281.72,679.81 L281.97,678.11 L282.22,676.48 L282.48,674.91 L282.73,673.40 L282.99,671.96 L283.24,670.57 L283.50,669.26 L283.75,668.00 L284.01,666.81 L284.26,665.68 L284.51,664.61 L284.77,663.60 L285.02,662.66 L285.28,661.78 L285.53,660.96 L285.79,660.20 L286.04,659.51 L286.30,658.88 L286.55,658.31 L286.81,657.80 L287.06,657.36 L287.31,656.97 L287.57,656.65 L287.82,656.39 L288.08,656.20 L288.33,656.06 L288.59,655.99 L288.84,655.97 L289.10,656.02 L289.35,656.13 L289.60,656.30 L289.86,656.53 L290.11,656.83 L290.37,657.18 L290.62,657.59 L290.88,658.07 L291.13,658.61 L291.39,659.20 L291.64,659.86 L291.90,660.58 L292.15,661.36 L292.40,662.20 L292.66,663.10 L292.91,664.06 L293.17,665.08 L293.42,666.15 L293.68,667.29 L293.93,668.49 L294.19,669.75 L294.44,671.07 L294.69,672.45 L294.95,673.89 L295.20,675.39 L295.46,676.95 L295.71,678.57 L295.97,680.25 L296.22,681.99 L296.48,683.79 L296.73,685.64 L296.99,687.56 L297.24,689.54 L297.49,691.58 L297.75,693.68 L298.00,695.83 L298.26,698.05 L298.51,700.33 L298.77,702.67 L299.02,705.06 L299.28,707.52 L299.53,710.04 L299.78,712.62 L300.04,715.26 L300.29,717.96 L300.55,720.72 L300.80,723.54 L301.06,726.42 L301.31,729.37 L301.57,732.37 L301.82,735.44 L301.82,735.49 L302.08,732.68 L302.33,729.89 L302.58,727.15 L302.84,724.48 L303.09,721.87 L303.35,719.31 L303.60,716.82 L303.86,714.38 L304.11,712.01 L304.37,709.69 L304.62,707.44 L304.87,705.25 L305.13,703.12 L305.38,701.04 L305.64,699.03 L305.89,697.08 L306.15,695.19 L306.40,693.36 L306.66,691.60 L306.91,689.89 L307.17,688.24 L307.42,686.66 L307.67,685.13 L307.93,683.67 L308.18,682.27 L308.44,680.92 L308.69,679.64 L308.95,678.42 L309.20,677.26 L309.46,676.17 L309.71,675.13 L309.96,674.15 L310.22,673.23 L310.47,672.38 L310.73,671.58 L310.98,670.85 L311.24,670.17 L311.49,669.56 L311.75,669.01 L312.00,668.52 L312.26,668.08 L312.51,667.71 L312.76,667.40 L313.02,667.15 L313.27,666.95 L313.53,666.82 L313.78,666.75 L314.04,666.74 L314.29,666.78 L314.55,666.89 L314.80,667.06 L315.05,667.28 L315.31,667.57 L315.56,667.91 L315.82,668.32 L316.07,668.78 L316.33,669.30 L316.58,669.88 L316.84,670.52 L317.09,671.22 L317.35,671.98 L317.60,672.80 L317.85,673.67 L318.11,674.61 L318.36,675.60 L318.62,676.65 L318.87,677.76 L319.13,678.93 L319.38,680.16 L319.64,681.44 L319.89,682.79 L320.14,684.19 L320.40,685.65 L320.65,687.17 L320.91,688.75 L321.16,690.38 L321.42,692.08 L321.67,693.83 L321.93,695.64 L322.18,697.51 L322.44,699.44 L322.69,701.42 L322.94,703.47 L323.20,705.57 L323.45,707.73 L323.71,709.95 L323.96,712.22 L324.22,714.56 L324.47,716.95 L324.73,719.41 L324.98,721.92 L325.23,724.49 L325.49,727.12 L325.74,729.81 L326.00,732.56 L326.25,735.36 L326.51,738.23 L326.76,741.16 L327.02,744.14 L327.27,747.19 L327.27,747.24 L327.53,744.56 L327.78,741.91 L328.03,739.31 L328.29,736.76 L328.54,734.28 L328.80,731.86 L329.05,729.49 L329.31,727.18 L329.56,724.93 L329.82,722.74 L330.07,720.61 L330.32,718.54 L330.58,716.52 L330.83,714.57 L331.09,712.67 L331.34,710.83 L331.60,709.06 L331.85,707.34 L332.11,705.68 L332.36,704.08 L332.62,702.54 L332.87,701.05 L333.12,699.63 L333.38,698.27 L333.63,696.96 L333.89,695.72 L334.14,694.53 L334.40,693.41 L334.65,692.34 L334.91,691.33 L335.16,690.38 L335.41,689.49 L335.67,688.66 L335.92,687.89 L336.18,687.17 L336.43,686.52 L336.69,685.92 L336.94,685.39 L337.20,684.91 L337.45,684.49 L337.71,684.13 L337.96,683.83 L338.21,683.58 L338.47,683.40 L338.72,683.27 L338.98,683.20 L339.23,683.19 L339.49,683.24 L339.74,683.35 L340.00,683.51 L340.25,683.74 L340.50,684.02 L340.76,684.36 L341.01,684.76 L341.27,685.21 L341.52,685.72 L341.78,686.29 L342.03,686.92 L342.29,687.61 L342.54,688.35 L342.80,689.15 L343.05,690.01 L343.30,690.93 L343.56,691.90 L343.81,692.93 L344.07,694.02 L344.32,695.16 L344.58,696.36 L344.83,697.62 L345.09,698.94 L345.34,700.31 L345.59,701.74 L345.85,703.23 L346.10,704.78 L346.36,706.38 L346.61,708.04 L346.87,709.75 L347.12,711.52 L347.38,713.35 L347.63,715.24 L347.89,717.18 L348.14,719.18 L348.39,721.24 L348.65,723.36 L348.90,725.53 L349.16,727.76 L349.41,730.04 L349.67,732.38 L349.92,734.79 L350.18,737.24 L350.43,739.76 L350.68,742.33 L350.94,744.96 L351.19,747.65 L351.45,750.39 L351.70,753.20 L351.96,756.06 L352.21,758.98 L352.47,761.95 L352.72,764.99 L352.72,765.04 L352.98,762.49 L353.23,759.96 L353.48,757.48 L353.74,755.06 L353.99,752.70 L354.25,750.39 L354.50,748.14 L354.76,745.95 L355.01,743.82 L355.27,741.74 L355.52,739.72 L355.77,737.76 L356.03,735.86 L356.28,734.01 L356.54,732.22 L356.79,730.49 L357.05,728.82 L357.30,727.20 L357.56,725.64 L357.81,724.14 L358.07,722.70 L358.32,721.32 L358.57,719.99 L358.83,718.72 L359.08,717.51 L359.34,716.35 L359.59,715.26 L359.85,714.22 L360.10,713.24 L360.36,712.31 L360.61,711.45 L360.86,710.64 L361.12,709.89 L361.37,709.19 L361.63,708.56 L361.88,707.98 L362.14,707.46 L362.39,706.99 L362.65,706.59 L362.90,706.24 L363.16,705.95 L363.41,705.71 L363.66,705.54 L363.92,705.42 L364.17,705.35 L364.43,705.35 L364.68,705.40 L364.94,705.51 L365.19,705.67 L365.45,705.90 L365.70,705.68 L365.95,705.51 L366.21,705.40 L366.46,705.35 L366.72,705.35 L366.97,705.41 L367.23,705.53 L367.48,705.71 L367.74,705.94 L367.99,706.23 L368.25,706.58 L368.50,706.98 L368.75,707.44 L369.01,707.96 L369.26,708.54 L369.52,709.17 L369.77,709.87 L370.03,710.61 L370.28,711.42 L370.54,712.29 L370.79,713.21 L371.04,714.19 L371.30,715.22 L371.55,716.32 L371.81,717.47 L372.06,718.68 L372.32,719.95 L372.57,721.27 L372.83,722.66 L373.08,724.10 L373.34,725.60 L373.59,727.15 L373.84,728.77 L374.10,730.44 L374.35,732.17 L374.61,733.95 L374.86,735.80 L375.12,737.70 L375.37,739.66 L375.63,741.68 L375.88,743.75 L376.13,745.88 L376.39,748.07 L376.64,750.32 L376.90,752.62 L377.15,754.98 L377.41,757.40 L377.66,759.88 L377.92,762.41 L378.17,765.00 L378.18,765.04 L378.43,762.05 L378.68,759.07 L378.93,756.15 L379.19,753.29 L379.44,750.48 L379.70,747.74 L379.95,745.05 L380.21,742.41 L380.46,739.84 L380.72,737.32 L380.97,734.86 L381.22,732.46 L381.48,730.12 L381.73,727.83 L381.99,725.60 L382.24,723.42 L382.50,721.31 L382.75,719.25 L383.01,717.25 L383.26,715.30 L383.52,713.41 L383.77,711.58 L384.02,709.81 L384.28,708.09 L384.53,706.43 L384.79,704.83 L385.04,703.28 L385.30,701.79 L385.55,700.36 L385.81,698.98 L386.06,697.66 L386.31,696.40 L386.57,695.20 L386.82,694.05 L387.08,692.96 L387.33,691.93 L387.59,690.96 L387.84,690.04 L388.10,689.18 L388.35,688.38 L388.61,687.63 L388.86,686.94 L389.11,686.31 L389.37,685.74 L389.62,685.23 L389.88,684.77 L390.13,684.37 L390.39,684.03 L390.64,683.75 L390.90,683.52 L391.15,683.35 L391.40,683.25 L391.66,683.19 L391.91,683.20 L392.17,683.27 L392.42,683.39 L392.68,683.58 L392.93,683.82 L393.19,684.12 L393.44,684.48 L393.70,684.89 L393.95,685.37 L394.20,685.90 L394.46,686.50 L394.71,687.15 L394.97,687.86 L395.22,688.63 L395.48,689.46 L395.73,690.35 L395.99,691.30 L396.24,692.30 L396.49,693.37 L396.75,694.50 L397.00,695.68 L397.26,696.92 L397.51,698.23 L397.77,699.59 L398.02,701.01 L398.28,702.49 L398.53,704.03 L398.79,705.63 L399.04,707.28 L399.29,709.00 L399.55,710.78 L399.80,712.61 L400.06,714.51 L400.31,716.46 L400.57,718.47 L400.82,720.54 L401.08,722.67 L401.33,724.86 L401.58,727.11 L401.84,729.41 L402.09,731.78 L402.35,734.20 L402.60,736.68 L402.86,739.22 L403.11,741.82 L403.37,744.48 L403.62,747.19 L403.62,747.24 L403.88,744.24 L404.13,741.25 L404.38,738.32 L404.64,735.45 L404.89,732.65 L405.15,729.90 L405.40,727.20 L405.66,724.57 L405.91,722.00 L406.17,719.49 L406.42,717.03 L406.67,714.64 L406.93,712.30 L407.18,710.02 L407.44,707.80 L407.69,705.64 L407.95,703.53 L408.20,701.49 L408.46,699.50 L408.71,697.57 L408.97,695.70 L409.22,693.89 L409.47,692.13 L409.73,690.44 L409.98,688.80 L410.24,687.22 L410.49,685.70 L410.75,684.24 L411.00,682.83 L411.26,681.49 L411.51,680.20 L411.76,678.97 L412.02,677.80 L412.27,676.69 L412.53,675.63 L412.78,674.64 L413.04,673.70 L413.29,672.82 L413.55,672.01 L413.80,671.25 L414.06,670.54 L414.31,669.90 L414.56,669.32 L414.82,668.79 L415.07,668.33 L415.33,667.92 L415.58,667.58 L415.84,667.29 L416.09,667.06 L416.35,666.89 L416.60,666.79 L416.85,666.74 L417.11,666.75 L417.36,666.82 L417.62,666.95 L417.87,667.14 L418.13,667.39 L418.38,667.70 L418.64,668.07 L418.89,668.50 L419.15,668.99 L419.40,669.54 L419.65,670.15 L419.91,670.83 L420.16,671.56 L420.42,672.35 L420.67,673.21 L420.93,674.12 L421.18,675.10 L421.44,676.13 L421.69,677.23 L421.94,678.39 L422.20,679.60 L422.45,680.88 L422.71,682.22 L422.96,683.62 L423.22,685.08 L423.47,686.61 L423.73,688.19 L423.98,689.83 L424.24,691.54 L424.49,693.31 L424.74,695.13 L425.00,697.02 L425.25,698.97 L425.51,700.98 L425.76,703.05 L426.02,705.18 L426.27,707.37 L426.53,709.62 L426.78,711.93 L427.03,714.31 L427.29,716.74 L427.54,719.23 L427.80,721.78 L428.05,724.40 L428.31,727.07 L428.56,729.80 L428.82,732.59 L429.07,735.44 L429.07,735.49 L429.33,732.47 L429.58,729.46 L429.83,726.52 L430.09,723.63 L430.34,720.81 L430.60,718.04 L430.85,715.34 L431.11,712.70 L431.36,710.12 L431.62,707.60 L431.87,705.14 L432.12,702.74 L432.38,700.40 L432.63,698.12 L432.89,695.90 L433.14,693.74 L433.40,691.64 L433.65,689.60 L433.91,687.62 L434.16,685.70 L434.42,683.84 L434.67,682.04 L434.92,680.30 L435.18,678.62 L435.43,677.00 L435.69,675.44 L435.94,673.94 L436.20,672.50 L436.45,671.12 L436.71,669.80 L436.96,668.53 L437.21,667.33 L437.47,666.19 L437.72,665.11 L437.98,664.09 L438.23,663.13 L438.49,662.22 L438.74,661.38 L439.00,660.60 L439.25,659.88 L439.51,659.22 L439.76,658.62 L440.01,658.09 L440.27,657.61 L440.52,657.19 L440.78,656.84 L441.03,656.54 L441.29,656.31 L441.54,656.13 L441.80,656.02 L442.05,655.97 L442.30,655.98 L442.56,656.06 L442.81,656.19 L443.07,656.39 L443.32,656.64 L443.58,656.96 L443.83,657.34 L444.09,657.79 L444.34,658.29 L444.60,658.86 L444.85,659.49 L445.10,660.18 L445.36,660.93 L445.61,661.75 L445.87,662.63 L446.12,663.57 L446.38,664.57 L446.63,665.64 L446.89,666.77 L447.14,667.96 L447.39,669.21 L447.65,670.53 L447.90,671.91 L448.16,673.35 L448.41,674.86 L448.67,676.43 L448.92,678.06 L449.18,679.75 L449.43,681.51 L449.69,683.33 L449.94,685.21 L450.19,687.15 L450.45,689.16 L450.70,691.23 L450.96,693.36 L451.21,695.56 L451.47,697.82 L451.72,700.14 L451.98,702.52 L452.23,704.96 L452.48,707.47 L452.74,710.04 L452.99,712.67 L453.25,715.36 L453.50,718.12 L453.76,720.93 L454.01,723.81 L454.27,726.75 L454.52,729.75 L454.52,729.80 L454.78,726.74 L455.03,723.70 L455.28,720.72 L455.54,717.81 L455.79,714.95 L456.05,712.16 L456.30,709.43 L456.56,706.76 L456.81,704.15 L457.07,701.61 L457.32,699.13 L457.57,696.71 L457.83,694.35 L458.08,692.06 L458.34,689.82 L458.59,687.65 L458.85,685.55 L459.10,683.50 L459.36,681.52 L459.61,679.59 L459.87,677.74 L460.12,675.94 L460.37,674.20 L460.63,672.53 L460.88,670.92 L461.14,669.38 L461.39,667.89 L461.65,666.47 L461.90,665.11 L462.16,663.81 L462.41,662.57 L462.66,661.40 L462.92,660.29 L463.17,659.24 L463.43,658.25 L463.68,657.33 L463.94,656.46 L464.19,655.66 L464.45,654.92 L464.70,654.25 L464.96,653.63 L465.21,653.08 L465.46,652.59 L465.72,652.17 L465.97,651.80 L466.23,651.50 L466.48,651.26 L466.74,651.08 L466.99,650.96 L467.25,650.91 L467.50,650.92 L467.75,650.99 L468.01,651.12 L468.26,651.31 L468.52,651.57 L468.77,651.89 L469.03,652.27 L469.28,652.71 L469.54,653.21 L469.79,653.78 L470.05,654.41 L470.30,655.10 L470.55,655.85 L470.81,656.66 L471.06,657.54 L471.32,658.48 L471.57,659.48 L471.83,660.54 L472.08,661.66 L472.34,662.85 L472.59,664.09 L472.84,665.40 L473.10,666.78 L473.35,668.21 L473.61,669.70 L473.86,671.26 L474.12,672.88 L474.37,674.56 L474.63,676.30 L474.88,678.11 L475.14,679.97 L475.39,681.90 L475.64,683.89 L475.90,685.95 L476.15,688.06 L476.41,690.24 L476.66,692.47 L476.92,694.77 L477.17,697.14 L477.43,699.56 L477.68,702.05 L477.93,704.59 L478.19,707.20 L478.44,709.88 L478.70,712.61 L478.95,715.41 L479.21,718.26 L479.46,721.18 L479.72,724.17 L479.97,727.21 L479.97,727.26 L480.23,724.27 L480.48,721.30 L480.73,718.39 L480.99,715.54 L481.24,712.75 L481.50,710.02 L481.75,707.35 L482.01,704.75 L482.26,702.20 L482.52,699.72 L482.77,697.30 L483.02,694.95 L483.28,692.65 L483.53,690.42 L483.79,688.25 L484.04,686.14 L484.30,684.09 L484.55,682.11 L484.81,680.19 L485.06,678.33 L485.32,676.53 L485.57,674.80 L485.82,673.13 L486.08,671.52 L486.33,669.98 L486.59,668.49 L486.84,667.07 L487.10,665.71 L487.35,664.42 L487.61,663.18 L487.86,662.01 L488.11,660.90 L488.37,659.86 L488.62,658.87 L488.88,657.95 L489.13,657.09 L489.39,656.30 L489.64,655.56 L489.90,654.89 L490.15,654.28 L490.41,653.73 L490.66,653.24 L490.91,652.81 L491.17,652.45 L491.42,652.14 L491.68,651.90 L491.93,651.72 L492.19,651.60 L492.44,651.55 L492.70,651.55 L492.95,651.61 L493.20,651.74 L493.46,651.93 L493.71,652.17 L493.97,652.48 L494.22,652.85 L494.48,653.28 L494.73,653.77 L494.99,654.32 L495.24,654.93 L495.50,655.60 L495.75,656.34 L496.00,657.13 L496.26,657.98 L496.51,658.89 L496.77,659.87 L497.02,660.90 L497.28,661.99 L497.53,663.14 L497.79,664.35 L498.04,665.62 L498.29,666.96 L498.55,668.35 L498.80,669.80 L499.06,671.31 L499.31,672.88 L499.57,674.51 L499.82,676.20 L500.08,677.95 L500.33,679.76 L500.59,681.62 L500.84,683.55 L501.09,685.54 L501.35,687.59 L501.60,689.70 L501.86,691.86 L502.11,694.09 L502.37,696.38 L502.62,698.72 L502.88,701.13 L503.13,703.60 L503.38,706.13 L503.64,708.71 L503.89,711.36 L504.15,714.07 L504.40,716.84 L504.66,719.67 L504.91,722.56 L505.17,725.52 L505.42,728.53 L505.42,728.58 L505.68,725.74 L505.93,722.91 L506.18,720.13 L506.44,717.42 L506.69,714.77 L506.95,712.18 L507.20,709.64 L507.46,707.17 L507.71,704.76 L507.97,702.41 L508.22,700.11 L508.47,697.88 L508.73,695.71 L508.98,693.60 L509.24,691.55 L509.49,689.56 L509.75,687.63 L510.00,685.76 L510.26,683.95 L510.51,682.20 L510.77,680.52 L511.02,678.89 L511.27,677.33 L511.53,675.82 L511.78,674.38 L512.04,673.00 L512.29,671.67 L512.55,670.41 L512.80,669.21 L513.06,668.07 L513.31,667.00 L513.56,665.98 L513.82,665.02 L514.07,664.12 L514.33,663.29 L514.58,662.51 L514.84,661.79 L515.09,661.14 L515.35,660.54 L515.60,660.01 L515.86,659.53 L516.11,659.12 L516.36,658.76 L516.62,658.47 L516.87,658.23 L517.13,658.05 L517.38,657.94 L517.64,657.88 L517.89,657.88 L518.15,657.95 L518.40,658.07 L518.65,658.25 L518.91,658.49 L519.16,658.79 L519.42,659.15 L519.67,659.56 L519.93,660.04 L520.18,660.57 L520.44,661.16 L520.69,661.82 L520.95,662.53 L521.20,663.29 L521.45,664.12 L521.71,665.01 L521.96,665.95 L522.22,666.95 L522.47,668.01 L522.73,669.13 L522.98,670.30 L523.24,671.54 L523.49,672.83 L523.74,674.18 L524.00,675.59 L524.25,677.05 L524.51,678.57 L524.76,680.16 L525.02,681.79 L525.27,683.49 L525.53,685.24 L525.78,687.06 L526.04,688.93 L526.29,690.85 L526.54,692.84 L526.80,694.88 L527.05,696.98 L527.31,699.14 L527.56,701.36 L527.82,703.64 L528.07,705.97 L528.33,708.36 L528.58,710.81 L528.83,713.32 L529.09,715.89 L529.34,718.51 L529.60,721.20 L529.85,723.94 L530.11,726.74 L530.36,729.61 L530.62,732.53 L530.87,735.51 L530.88,735.56 L531.13,732.86 L531.38,730.18 L531.63,727.55 L531.89,724.98 L532.14,722.47 L532.40,720.02 L532.65,717.63 L532.91,715.29 L533.16,713.02 L533.42,710.80 L533.67,708.64 L533.92,706.54 L534.18,704.49 L534.43,702.51 L534.69,700.58 L534.94,698.71 L535.20,696.91 L535.45,695.16 L535.71,693.46 L535.96,691.83 L536.22,690.26 L536.47,688.74 L536.72,687.29 L536.98,685.89 L537.23,684.55 L537.49,683.27 L537.74,682.05 L538.00,680.88 L538.25,679.78 L538.51,678.74 L538.76,677.75 L539.01,676.82 L539.27,675.95 L539.52,675.14 L539.78,674.39 L540.03,673.69 L540.29,673.06 L540.54,672.48 L540.80,671.96 L541.05,671.50 L541.31,671.10 L541.56,670.76 L541.81,670.47 L542.07,670.25 L542.32,670.08 L542.58,669.96 L542.83,669.91 L543.09,669.92 L543.34,669.98 L543.60,670.10 L543.85,670.28 L544.10,670.51 L544.36,670.81 L544.61,671.16 L544.87,671.57 L545.12,672.03 L545.38,672.56 L545.63,673.14 L545.89,673.78 L546.14,674.47 L546.40,675.23 L546.65,676.04 L546.90,676.90 L547.16,677.83 L547.41,678.81 L547.67,679.85 L547.92,680.95 L548.18,682.10 L548.43,683.31 L548.69,684.57 L548.94,685.90 L549.19,687.28 L549.45,688.72 L549.70,690.21 L549.96,691.76 L550.21,693.37 L550.47,695.03 L550.72,696.75 L550.98,698.53 L551.23,700.37 L551.49,702.26 L551.74,704.21 L551.99,706.21 L552.25,708.27 L552.50,710.39 L552.76,712.57 L553.01,714.80 L553.27,717.09 L553.52,719.44 L553.78,721.84 L554.03,724.30 L554.28,726.82 L554.54,729.40 L554.79,732.03 L555.05,734.72 L555.30,737.47 L555.56,740.28 L555.81,743.14 L556.07,746.06 L556.32,749.04 L556.33,749.09 L556.58,746.51 L556.83,743.94 L557.08,741.43 L557.34,738.98 L557.59,736.58 L557.85,734.24 L558.10,731.96 L558.36,729.73 L558.61,727.57 L558.87,725.46 L559.12,723.40 L559.37,721.41 L559.63,719.47 L559.88,717.59 L560.14,715.76 L560.39,713.99 L560.65,712.28 L560.90,710.63 L561.16,709.04 L561.41,707.50 L561.67,706.02 L561.92,704.60 L562.17,703.23 L562.43,701.92 L562.68,700.67 L562.94,699.48 L563.19,698.34 L563.45,697.26 L563.70,696.24 L563.96,695.28 L564.21,694.37 L564.46,693.52 L564.72,692.73 L564.97,691.99 L565.23,691.32 L565.48,690.70 L565.74,690.13 L565.99,689.63 L566.25,689.18 L566.50,688.79 L566.76,688.45 L567.01,688.17 L567.26,687.95 L567.52,687.79 L567.77,687.69 L568.03,687.64 L568.28,687.64 L568.54,687.71 L568.79,687.83 L569.05,688.01 L569.30,688.24 L569.55,688.54 L569.81,688.89 L570.06,689.29 L570.32,689.75 L570.57,690.27 L570.83,690.85 L571.08,691.48 L571.34,692.17 L571.59,692.92 L571.85,693.72 L572.10,694.58 L572.35,695.49 L572.61,696.47 L572.86,697.49 L573.12,698.58 L573.37,699.72 L573.63,700.92 L573.88,702.17 L574.14,703.48 L574.39,704.85 L574.64,706.27 L574.90,707.75 L575.15,709.29 L575.41,710.88 L575.66,712.53 L575.92,714.24 L576.17,716.00 L576.43,717.81 L576.68,719.69 L576.94,721.62 L577.19,723.61 L577.44,725.65 L577.70,727.75 L577.95,729.90 L578.21,732.12 L578.46,734.39 L578.72,736.71 L578.97,739.09 L579.23,741.53 L579.48,744.03 L579.73,746.58 L579.99,749.18 L580.24,751.85 L580.50,754.57 L580.75,757.35 L581.01,760.18 L581.26,763.07 L581.52,766.02 L581.77,769.03 L581.77,769.08 L582.03,766.58 L582.28,764.11 L582.53,761.69 L582.79,759.32 L583.04,757.02 L583.30,754.77 L583.55,752.58 L583.81,750.44 L584.06,748.37 L584.32,746.34 L584.57,744.38 L584.82,742.47 L585.08,740.62 L585.33,738.82 L585.59,737.08 L585.84,735.40 L586.10,733.77 L586.35,732.20 L586.61,730.69 L586.86,729.23 L587.12,727.83 L587.37,726.48 L587.62,725.19 L587.88,723.96 L588.13,722.78 L588.39,721.66 L588.64,720.59 L588.90,719.58 L589.15,718.63 L589.41,717.74 L589.66,716.90 L589.91,716.11 L590.17,715.38 L590.42,714.71 L590.68,714.10 L590.93,713.54 L591.19,713.04 L591.44,712.59 L591.70,712.21 L591.95,711.87 L592.21,711.60 L592.46,711.38 L592.71,711.22 L592.97,711.11 L593.22,711.06 L593.48,711.07 L593.73,711.14 L593.99,711.26 L594.24,711.44 L594.50,711.67 L594.75,711.97 L595.00,712.32 L595.26,712.72 L595.51,713.19 L595.77,713.71 L596.02,714.29 L596.28,714.93 L596.53,715.62 L596.79,716.37 L597.04,717.18 L597.30,718.05 L597.55,718.97 L597.80,719.95 L598.06,720.99 L598.31,722.09 L598.57,723.24 L598.82,724.45 L599.08,725.72 L599.33,727.05 L599.59,728.43 L599.84,729.88 L600.09,731.38 L600.35,732.94 L600.60,734.55 L600.86,736.23 L601.11,737.96 L601.37,739.75 L601.62,741.60 L601.88,743.51 L602.13,745.47 L602.39,747.49 L602.64,749.57 L602.89,751.71 L603.15,753.90 L603.40,756.16 L603.66,758.47 L603.91,760.84 L604.17,763.27 L604.42,765.75 L604.68,768.29 L604.93,770.89 L605.18,773.55 L605.44,776.26 L605.69,779.04 L605.95,781.86 L606.20,784.75 L606.46,787.70 L606.71,790.70 L606.97,793.75 L607.22,796.87 L607.23,796.92 L607.48,794.43 L607.73,791.96 L607.98,789.55 L608.24,787.20 L608.49,784.91 L608.75,782.67 L609.00,780.49 L609.26,778.37 L609.51,776.31 L609.77,774.31 L610.02,772.36 L610.27,770.47 L610.53,768.64 L610.78,766.86 L611.04,765.15 L611.29,763.49 L611.55,761.88 L611.80,760.34 L612.06,758.85 L612.31,757.42 L612.57,756.04 L612.82,754.72 L613.07,753.46 L613.33,752.26 L613.58,751.11 L613.84,750.02 L614.09,748.99 L614.35,748.02 L614.60,747.10 L614.86,746.24 L615.11,745.43 L615.36,744.69 L615.62,744.00 L615.87,743.37 L616.13,742.79 L616.38,742.27 L616.64,741.81 L616.89,741.41 L617.15,741.07 L617.40,740.78 L617.66,740.55 L617.91,740.38 L618.16,740.27 L618.42,740.21 L618.67,740.21 L618.93,740.27 L619.18,740.39 L619.44,740.57 L619.69,740.80 L619.95,741.09 L620.20,741.45 L620.45,741.86 L620.71,742.32 L620.96,742.85 L621.22,743.44 L621.47,744.08 L621.73,744.78 L621.98,745.55 L622.24,746.37 L622.49,747.25 L622.75,748.18 L623.00,749.18 L623.25,750.24 L623.51,751.36 L623.76,752.53 L624.02,753.77 L624.27,755.06 L624.53,756.42 L624.78,757.83 L625.04,759.30 L625.29,760.83 L625.54,762.43 L625.80,764.08 L626.05,765.79 L626.31,767.56 L626.56,769.39 L626.82,771.28 L627.07,773.23 L627.33,775.24 L627.58,777.31 L627.84,779.44 L628.09,781.63 L628.34,783.88 L628.60,786.18 L628.85,788.55 L629.11,790.98 L629.36,793.47 L629.62,796.01 L629.87,798.62 L630.13,801.28 L630.38,804.01 L630.63,806.79 L630.89,809.63 L631.14,812.53 L631.40,815.49 L631.65,818.51 L631.91,821.59 L632.16,824.72 L632.42,827.92 L632.67,831.17 L632.67,831.22 L632.93,828.71 L633.18,826.22 L633.43,823.79 L633.69,821.43 L633.94,819.12 L634.20,816.87 L634.45,814.68 L634.71,812.55 L634.96,810.48 L635.22,808.47 L635.47,806.51 L635.72,804.62 L635.98,802.79 L636.23,801.01 L636.49,799.29 L636.74,797.64 L637.00,796.04 L637.25,794.50 L637.51,793.01 L637.76,791.59 L638.02,790.23 L638.27,788.92 L638.52,787.67 L638.78,786.49 L639.03,785.36 L639.29,784.28 L639.54,783.27 L639.80,782.32 L640.05,781.42 L640.31,780.59 L640.56,779.81 L640.81,779.09 L641.07,778.43 L641.32,777.83 L641.58,777.29 L641.83,776.81 L642.09,776.38 L642.34,776.02 L642.60,775.71 L642.85,775.46 L643.11,775.28 L643.36,775.15 L643.61,775.08 L643.87,775.07 L644.12,775.12 L644.38,775.23 L644.63,775.40 L644.89,775.63 L645.14,775.92 L645.40,776.27 L645.65,776.68 L645.90,777.15 L646.16,777.68 L646.41,778.27 L646.67,778.92 L646.92,779.63 L647.18,780.40 L647.43,781.24 L647.69,782.13 L647.94,783.08 L648.20,784.09 L648.45,785.17 L648.70,786.30 L648.96,787.50 L649.21,788.76 L649.47,790.08 L649.72,791.46 L649.98,792.90 L650.23,794.40 L650.49,795.96 L650.74,797.59 L650.99,799.27 L651.25,801.02 L651.50,802.83 L651.76,804.70 L652.01,806.63 L652.27,808.62 L652.52,810.67 L652.78,812.79 L653.03,814.97 L653.29,817.20 L653.54,819.50 L653.79,821.86 L654.05,824.29 L654.30,826.77 L654.56,829.31 L654.81,831.92 L655.07,834.59 L655.32,837.31 L655.58,840.10 L655.83,842.95 L656.08,845.86 L656.34,848.83 L656.59,851.87 L656.85,854.96 L657.10,858.11 L657.36,861.32 L657.61,864.60 L657.87,867.93 L658.12,871.32 L658.12,871.38 L658.38,868.84 L658.63,866.33 L658.88,863.88 L659.14,861.49 L659.39,859.16 L659.65,856.89 L659.90,854.69 L660.16,852.54 L660.41,850.46 L660.67,848.44 L660.92,846.48 L661.17,844.57 L661.43,842.73 L661.68,840.95 L661.94,839.24 L662.19,837.58 L662.45,835.98 L662.70,834.44 L662.96,832.96 L663.21,831.55 L663.47,830.19 L663.72,828.89 L663.97,827.66 L664.23,826.48 L664.48,825.37 L664.74,824.31 L664.99,823.32 L665.25,822.39 L665.50,821.51 L665.76,820.70 L666.01,819.95 L666.26,819.25 L666.52,818.62 L666.77,818.05 L667.03,817.54 L667.28,817.09 L667.54,816.70 L667.70,816.49" fill="none" stroke="#5079b8" stroke-width="3" stroke-linejoin="miter" stroke-miterlimit="2" stroke-linecap="butt"/>
<g style="will-change:transform">
<rect x="67" y="22.6" width="23" height="21.2" fill="#fff"/>
<line x1="78.3" y1="20.5" x2="78.7" y2="22.4" stroke="#3a32a0" stroke-width="1"/>
<text x="65.96" y="39.60" font-size="21.3" fill="#000" >(a)</text>
<text x="402.96" y="36.20" font-size="21.3" fill="#000" >(c)</text>
<text x="64.86" y="325.90" font-size="21.3" fill="#000" >(b)</text>
<text x="403.86" y="336.60" font-size="21.3" fill="#000" >(d)</text>
<text x="63.16" y="658.30" font-size="21.3" fill="#000" >(e)</text>
<text x="144.24" y="50.90" font-size="20.3" letter-spacing="0.350">Sample-II</text>
<text x="145.02" y="75.50" font-size="20.3">H</text>
<g stroke="#8a8a8a" stroke-width="0.7"><line x1="159.5" y1="69.3" x2="159.5" y2="84.8"/><line x1="161.45" y1="69.3" x2="161.45" y2="84.8"/></g>
<text transform="translate(162.82,75.50) scale(1.270,1)" font-size="20.3">=</text>
<text x="181.03" y="75.50" font-size="20.3" letter-spacing="-0.003">360</text>
<text x="217.87" y="75.50" font-size="20.3" letter-spacing="1.166">Oe</text>
<text x="145.23" y="100.30" font-size="20.3">T</text>
<text transform="translate(161.30,100.30) scale(1.186,1)" font-size="20.3">=</text>
<text x="177.61" y="100.30" font-size="20.3" letter-spacing="0.453">2.575</text>
<text transform="translate(228.39,100.30) scale(1.219,1)" font-size="20.3">K</text>
<text x="484.74" y="49.30" font-size="20.3" letter-spacing="0.160">Sample-III</text>
<text x="485.32" y="74.60" font-size="20.3">H</text>
<g stroke="#8a8a8a" stroke-width="0.7"><line x1="501.6" y1="66.0" x2="501.6" y2="81.3"/><line x1="503.55" y1="66.0" x2="503.55" y2="81.3"/></g>
<text transform="translate(503.65,74.60) scale(1.239,1)" font-size="20.3">=</text>
<text transform="translate(522.09,74.60) scale(1.046,1)" font-size="20.3">0</text>
<text x="537.67" y="74.60" font-size="20.3" letter-spacing="1.166">Oe</text>
<text x="485.73" y="99.10" font-size="20.3">T</text>
<text transform="translate(501.27,99.10) scale(1.217,1)" font-size="20.3">=</text>
<text x="518.41" y="99.10" font-size="20.3" letter-spacing="0.451">2.37</text>
<text transform="translate(558.79,99.10) scale(1.219,1)" font-size="20.3">K</text>
<text x="157.04" y="343.20" font-size="20.3" letter-spacing="0.400">Sample-II</text>
<text x="157.82" y="368.40" font-size="20.3">H</text>
<g stroke="#8a8a8a" stroke-width="0.7"><line x1="174.6" y1="359.8" x2="174.6" y2="375.0"/><line x1="176.54999999999998" y1="359.8" x2="176.54999999999998" y2="375.0"/></g>
<text transform="translate(177.45,368.40) scale(1.133,1)" font-size="20.3">=</text>
<text x="194.83" y="368.40" font-size="20.3" letter-spacing="0.097">360</text>
<text x="231.07" y="368.40" font-size="20.3" letter-spacing="1.166">Oe</text>
<text x="158.03" y="393.20" font-size="20.3">T</text>
<text transform="translate(174.20,393.20) scale(1.186,1)" font-size="20.3">=</text>
<text x="191.71" y="393.20" font-size="20.3" letter-spacing="0.591">2.66</text>
<text transform="translate(232.56,393.20) scale(1.089,1)" font-size="20.3">K</text>
<text x="488.84" y="343.40" font-size="20.3" letter-spacing="0.127">Sample-III</text>
<text x="489.62" y="368.20" font-size="20.3">H</text>
<g stroke="#8a8a8a" stroke-width="0.7"><line x1="506.6" y1="361.6" x2="506.6" y2="376.8"/><line x1="508.55" y1="361.6" x2="508.55" y2="376.8"/></g>
<text transform="translate(507.68,368.20) scale(1.207,1)" font-size="20.3">=</text>
<text x="526.00" y="368.20" font-size="20.3" letter-spacing="0.260">470</text>
<text x="561.47" y="368.20" font-size="20.3" letter-spacing="0.666">Oe</text>
<text x="489.83" y="392.20" font-size="20.3">T</text>
<text transform="translate(505.50,392.20) scale(1.186,1)" font-size="20.3">=</text>
<text x="522.61" y="392.20" font-size="20.3" letter-spacing="0.328">2.375</text>
<text transform="translate(574.32,392.40) scale(0.988,1)" font-size="20.3">K</text>
<text x="15.21" y="16.90" font-size="20.5" fill="#000" >1.2</text>
<text x="15.46" y="79.60" font-size="20.5" fill="#000" >1.0</text>
<text x="16.16" y="141.90" font-size="20.5" fill="#000" >0.8</text>
<text x="15.99" y="206.40" font-size="20.5" fill="#000" >0.6</text>
<text x="15.70" y="269.30" font-size="20.5" fill="#000" >0.4</text>
<text x="348.01" y="48.00" font-size="20.5" fill="#000" >0.30</text>
<text x="347.34" y="121.00" font-size="20.5" fill="#000" >0.26</text>
<text x="348.36" y="192.10" font-size="20.5" fill="#000" >0.22</text>
<text x="348.01" y="267.40" font-size="20.5" fill="#000" >0.18</text>
<text x="16.99" y="322.80" font-size="20.5" fill="#000" >9.6</text>
<text x="17.46" y="416.80" font-size="20.5" fill="#000" >8.8</text>
<text x="17.46" y="503.20" font-size="20.5" fill="#000" >8.0</text>
<text x="18.01" y="587.70" font-size="20.5" fill="#000" >7.2</text>
<text x="356.20" y="347.90" font-size="20.5" fill="#000" >1.4</text>
<text x="357.31" y="416.00" font-size="20.5" fill="#000" >1.2</text>
<text x="357.16" y="482.50" font-size="20.5" fill="#000" >1.0</text>
<text x="357.16" y="550.90" font-size="20.5" fill="#000" >0.8</text>
<text x="28.23" y="710.10" font-size="20.5" fill="#000" >0</text>
<text x="23.15" y="786.60" font-size="20.5" fill="#000" >-1</text>
<text x="24.95" y="861.90" font-size="20.5" fill="#000" >-2</text>
<text x="58.84" y="282.90" font-size="20.5" fill="#000" >-200</text>
<text x="119.44" y="282.90" font-size="20.5" fill="#000" >-100</text>
<text x="188.52" y="282.90" font-size="20.5" fill="#000" >0</text>
<text x="239.40" y="282.90" font-size="20.5" fill="#000" >100</text>
<text x="300.40" y="282.90" font-size="20.5" fill="#000" >200</text>
<text x="391.24" y="282.90" font-size="20.5" fill="#000" >-200</text>
<text x="454.34" y="282.90" font-size="20.5" fill="#000" >-100</text>
<text x="526.82" y="282.90" font-size="20.5" fill="#000" >0</text>
<text x="581.10" y="282.90" font-size="20.5" fill="#000" >100</text>
<text x="646.70" y="282.90" font-size="20.5" fill="#000" >200</text>
<text x="57.44" y="601.60" font-size="20.5" fill="#000" >-200</text>
<text x="118.14" y="601.60" font-size="20.5" fill="#000" >-100</text>
<text x="187.02" y="601.60" font-size="20.5" fill="#000" >0</text>
<text x="238.10" y="601.60" font-size="20.5" fill="#000" >100</text>
<text x="298.60" y="601.60" font-size="20.5" fill="#000" >200</text>
<text x="408.14" y="600.30" font-size="20.5" fill="#000" >-300</text>
<text x="479.84" y="600.30" font-size="20.5" fill="#000" >-100</text>
<text x="531.02" y="600.30" font-size="20.5" fill="#000" >0</text>
<text x="557.80" y="600.30" font-size="20.5" fill="#000" >100</text>
<text x="630.32" y="600.30" font-size="20.5" fill="#000" >300</text>
<text x="51.24" y="942.60" font-size="20.5" fill="#000" >-20</text>
<text x="202.14" y="942.60" font-size="20.5" fill="#000" >-10</text>
<text x="362.62" y="942.60" font-size="20.5" fill="#000" >0</text>
<text x="508.10" y="942.60" font-size="20.5" fill="#000" >10</text>
<text x="658.70" y="942.60" font-size="20.5" fill="#000" >20</text>
<text x="167.02" y="298.40" font-size="20.3" fill="#000" >H</text>
<g stroke="#111" stroke-width="1.3"><line x1="183.45" y1="295.00" x2="183.45" y2="301.85"/><line x1="180.10" y1="301.85" x2="186.80" y2="301.85"/></g>
<text x="187.19" y="298.40" font-size="20.3" fill="#000" >[Oe]</text>
<text x="504.32" y="298.60" font-size="20.3" fill="#000" >H</text>
<g stroke="#111" stroke-width="1.3"><line x1="521.40" y1="295.20" x2="521.40" y2="302.15"/><line x1="517.80" y1="302.15" x2="525.00" y2="302.15"/></g>
<text x="524.49" y="298.60" font-size="20.3" fill="#000" >[Oe]</text>
<text x="172.22" y="618.70" font-size="20.3" fill="#000" >H</text>
<g stroke="#111" stroke-width="1.3"><line x1="189.80" y1="615.30" x2="189.80" y2="621.55"/><line x1="186.30" y1="621.55" x2="193.30" y2="621.55"/></g>
<text x="192.39" y="618.70" font-size="20.3" fill="#000" >[Oe]</text>
<text x="516.02" y="618.70" font-size="20.3" fill="#000" >H</text>
<g stroke="#111" stroke-width="1.3"><line x1="531.80" y1="615.30" x2="531.80" y2="621.55"/><line x1="528.30" y1="621.55" x2="535.30" y2="621.55"/></g>
<text x="535.49" y="618.70" font-size="20.3" fill="#000" >[Oe]</text>
<text x="344.19" y="959.80" font-size="20.3" fill="#000" >Φ</text>
<line x1="357.2" y1="962.3" x2="370.6" y2="945.3" stroke="#111" stroke-width="1.3"/>
<text x="371.19" y="959.80" font-size="20.3" fill="#000" >Φ</text>
<text x="386.84" y="964.20" font-size="12.2" fill="#000" >0</text>
<text transform="translate(17.2,191.5) rotate(-90)" font-size="20.3" >R [Ω]</text>
<text transform="translate(359.7,174.5) rotate(-90)" font-size="20.3" >R [Ω]</text>
<text transform="translate(17.2,468.3) rotate(-90)" font-size="20.3" >R [Ω]</text>
<text transform="translate(359.7,466.4) rotate(-90)" font-size="20.3" >R [Ω]</text>
<text transform="rotate(-90)" x="-828.18" y="20.60" font-size="20.5">Δ</text>
<text transform="rotate(-90)" x="-814.27" y="20.60" font-size="20.5">T</text>
<text transform="rotate(-90)" x="-803.71" y="25.30" font-size="16">c</text>
<text transform="rotate(-90)" x="-798.80" y="20.60" font-size="20.5">/</text>
<text transform="rotate(-90)" x="-789.37" y="20.60" font-size="20.5">T</text>
<text transform="rotate(-90)" x="-780.41" y="25.30" font-size="16">c</text>
<text transform="rotate(-90)" x="-766.22" y="20.60" font-size="20.5">×</text>
<text transform="rotate(-90)" x="-756.10" y="20.60" font-size="20.5" letter-spacing="-0.517">10</text>
<text transform="rotate(-90)" x="-737.57" y="11.40" font-size="14">3</text>
</g>
</svg></body></html>
